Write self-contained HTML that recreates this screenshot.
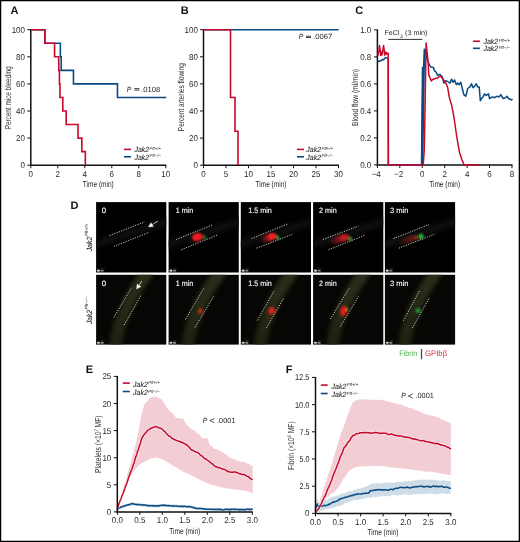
<!DOCTYPE html><html><head><meta charset="utf-8"><style>html,body{margin:0;padding:0;background:#fff;}svg{display:block;will-change:transform;} text{text-rendering:geometricPrecision;font-family:"Liberation Sans", sans-serif;}</style></head><body>
<svg width="520" height="542" viewBox="0 0 520 542">
<rect x="0" y="0" width="520" height="542" fill="#fff"/>
<text x="10.5" y="14.2" font-size="11" text-anchor="start" font-weight="bold" fill="#111" >A</text>
<path d="M30.8,29.19999999999999 V165.2 H166.3" fill="none" stroke="#111" stroke-width="1.5"/>
<path d="M27.3,165.2 H30.8" stroke="#111" stroke-width="1"/>
<path d="M27.3,138.1 H30.8" stroke="#111" stroke-width="1"/>
<path d="M27.3,110.99999999999999 H30.8" stroke="#111" stroke-width="1"/>
<path d="M27.3,83.89999999999998 H30.8" stroke="#111" stroke-width="1"/>
<path d="M27.3,56.79999999999998 H30.8" stroke="#111" stroke-width="1"/>
<path d="M27.3,29.69999999999999 H30.8" stroke="#111" stroke-width="1"/>
<path d="M30.8,165.2 V168.2" stroke="#111" stroke-width="1"/>
<path d="M57.8,165.2 V168.2" stroke="#111" stroke-width="1"/>
<path d="M84.8,165.2 V168.2" stroke="#111" stroke-width="1"/>
<path d="M111.8,165.2 V168.2" stroke="#111" stroke-width="1"/>
<path d="M138.8,165.2 V168.2" stroke="#111" stroke-width="1"/>
<path d="M165.8,165.2 V168.2" stroke="#111" stroke-width="1"/>
<text x="25.0" y="168.2" font-size="8.5" text-anchor="end" fill="#231f20" textLength="4.45" lengthAdjust="spacingAndGlyphs" >0</text>
<text x="25.0" y="141.1" font-size="8.5" text-anchor="end" fill="#231f20" textLength="8.9" lengthAdjust="spacingAndGlyphs" >20</text>
<text x="25.0" y="114.0" font-size="8.5" text-anchor="end" fill="#231f20" textLength="8.9" lengthAdjust="spacingAndGlyphs" >40</text>
<text x="25.0" y="86.9" font-size="8.5" text-anchor="end" fill="#231f20" textLength="8.9" lengthAdjust="spacingAndGlyphs" >60</text>
<text x="25.0" y="59.8" font-size="8.5" text-anchor="end" fill="#231f20" textLength="8.9" lengthAdjust="spacingAndGlyphs" >80</text>
<text x="25.0" y="32.7" font-size="8.5" text-anchor="end" fill="#231f20" textLength="13.34" lengthAdjust="spacingAndGlyphs" >100</text>
<text x="30.8" y="177.2" font-size="8.5" text-anchor="middle" fill="#231f20" textLength="4.45" lengthAdjust="spacingAndGlyphs" >0</text>
<text x="57.8" y="177.2" font-size="8.5" text-anchor="middle" fill="#231f20" textLength="4.45" lengthAdjust="spacingAndGlyphs" >2</text>
<text x="84.8" y="177.2" font-size="8.5" text-anchor="middle" fill="#231f20" textLength="4.45" lengthAdjust="spacingAndGlyphs" >4</text>
<text x="111.8" y="177.2" font-size="8.5" text-anchor="middle" fill="#231f20" textLength="4.45" lengthAdjust="spacingAndGlyphs" >6</text>
<text x="138.8" y="177.2" font-size="8.5" text-anchor="middle" fill="#231f20" textLength="4.45" lengthAdjust="spacingAndGlyphs" >8</text>
<text x="165.8" y="177.2" font-size="8.5" text-anchor="middle" fill="#231f20" textLength="8.9" lengthAdjust="spacingAndGlyphs" >10</text>
<text x="98.3" y="186.5" font-size="8.6" text-anchor="middle" fill="#231f20" textLength="31" lengthAdjust="spacingAndGlyphs">Time (min)</text>
<text transform="translate(11.4 97.8) rotate(-90)" x="0" y="0" font-size="8.6" text-anchor="middle" fill="#231f20" textLength="63" lengthAdjust="spacingAndGlyphs">Percent mice bleeding</text>
<polyline points="30.80,29.70 44.84,29.70 44.84,43.25 60.36,43.25 60.36,56.80 61.17,56.80 61.17,70.35 73.46,70.35 73.46,83.90 117.47,83.90 117.47,97.45 166.34,97.45" fill="none" stroke="#0a4a82" stroke-width="1.6"/>
<polyline points="30.80,29.70 44.84,29.70 44.84,43.25 54.56,43.25 54.56,56.80 58.74,56.80 58.74,70.35 59.42,70.35 59.42,83.90 59.96,83.90 59.96,97.45 62.80,97.45 62.80,111.00 66.17,111.00 66.17,124.55 78.05,124.55 78.05,138.10 81.83,138.10 81.83,151.65 85.34,151.65 85.34,165.20" fill="none" stroke="#c8082c" stroke-width="1.6"/>
<text x="126.80" y="91.6" font-size="7.5" font-style="italic" fill="#231f20" textLength="4.6" lengthAdjust="spacingAndGlyphs">P</text>
<rect x="134.4" y="88.25" width="5.00" height="0.85" fill="#231f20"/>
<rect x="134.4" y="89.65" width="5.00" height="0.85" fill="#231f20"/>
<text x="141.10" y="91.6" font-size="7.5" fill="#231f20" textLength="19.10" lengthAdjust="spacingAndGlyphs">.0108</text>
<path d="M124,149.4 H131" stroke="#c8082c" stroke-width="1.6"/>
<path d="M124,156.8 H131" stroke="#0a4a82" stroke-width="1.6"/>
<g transform="translate(134.4 152.3)"><text x="0" y="0" font-size="7.6" font-style="italic" fill="#231f20" stroke="#231f20" stroke-width="0.08" textLength="14.7" lengthAdjust="spacingAndGlyphs">Jak2</text><text x="15.20" y="-2.28" font-size="4.56" font-style="italic" fill="#231f20" textLength="11.5" lengthAdjust="spacingAndGlyphs">Plt+/+</text></g>
<g transform="translate(134.4 159.5)"><text x="0" y="0" font-size="7.6" font-style="italic" fill="#231f20" stroke="#231f20" stroke-width="0.08" textLength="14.7" lengthAdjust="spacingAndGlyphs">Jak2</text><text x="15.20" y="-2.28" font-size="4.56" font-style="italic" fill="#231f20" textLength="11.5" lengthAdjust="spacingAndGlyphs">Plt−/−</text></g>
<text x="180.8" y="14.2" font-size="11" text-anchor="start" font-weight="bold" fill="#111" >B</text>
<path d="M203.5,29.19999999999999 V165.2 H339.0" fill="none" stroke="#111" stroke-width="1.5"/>
<path d="M200.0,165.2 H203.5" stroke="#111" stroke-width="1"/>
<path d="M200.0,138.1 H203.5" stroke="#111" stroke-width="1"/>
<path d="M200.0,110.99999999999999 H203.5" stroke="#111" stroke-width="1"/>
<path d="M200.0,83.89999999999998 H203.5" stroke="#111" stroke-width="1"/>
<path d="M200.0,56.79999999999998 H203.5" stroke="#111" stroke-width="1"/>
<path d="M200.0,29.69999999999999 H203.5" stroke="#111" stroke-width="1"/>
<path d="M203.5,165.2 V168.2" stroke="#111" stroke-width="1"/>
<path d="M226.0,165.2 V168.2" stroke="#111" stroke-width="1"/>
<path d="M248.5,165.2 V168.2" stroke="#111" stroke-width="1"/>
<path d="M271.0,165.2 V168.2" stroke="#111" stroke-width="1"/>
<path d="M293.5,165.2 V168.2" stroke="#111" stroke-width="1"/>
<path d="M316.0,165.2 V168.2" stroke="#111" stroke-width="1"/>
<path d="M338.5,165.2 V168.2" stroke="#111" stroke-width="1"/>
<text x="197.9" y="168.2" font-size="8.5" text-anchor="end" fill="#231f20" textLength="4.45" lengthAdjust="spacingAndGlyphs" >0</text>
<text x="197.9" y="141.1" font-size="8.5" text-anchor="end" fill="#231f20" textLength="8.9" lengthAdjust="spacingAndGlyphs" >20</text>
<text x="197.9" y="114.0" font-size="8.5" text-anchor="end" fill="#231f20" textLength="8.9" lengthAdjust="spacingAndGlyphs" >40</text>
<text x="197.9" y="86.9" font-size="8.5" text-anchor="end" fill="#231f20" textLength="8.9" lengthAdjust="spacingAndGlyphs" >60</text>
<text x="197.9" y="59.8" font-size="8.5" text-anchor="end" fill="#231f20" textLength="8.9" lengthAdjust="spacingAndGlyphs" >80</text>
<text x="197.9" y="32.7" font-size="8.5" text-anchor="end" fill="#231f20" textLength="13.34" lengthAdjust="spacingAndGlyphs" >100</text>
<text x="203.5" y="177.2" font-size="8.5" text-anchor="middle" fill="#231f20" textLength="4.45" lengthAdjust="spacingAndGlyphs" >0</text>
<text x="226.0" y="177.2" font-size="8.5" text-anchor="middle" fill="#231f20" textLength="4.45" lengthAdjust="spacingAndGlyphs" >5</text>
<text x="248.5" y="177.2" font-size="8.5" text-anchor="middle" fill="#231f20" textLength="8.9" lengthAdjust="spacingAndGlyphs" >10</text>
<text x="271.0" y="177.2" font-size="8.5" text-anchor="middle" fill="#231f20" textLength="8.9" lengthAdjust="spacingAndGlyphs" >15</text>
<text x="293.5" y="177.2" font-size="8.5" text-anchor="middle" fill="#231f20" textLength="8.9" lengthAdjust="spacingAndGlyphs" >20</text>
<text x="316.0" y="177.2" font-size="8.5" text-anchor="middle" fill="#231f20" textLength="8.9" lengthAdjust="spacingAndGlyphs" >25</text>
<text x="338.5" y="177.2" font-size="8.5" text-anchor="middle" fill="#231f20" textLength="8.9" lengthAdjust="spacingAndGlyphs" >30</text>
<text x="271.0" y="186.5" font-size="8.6" text-anchor="middle" fill="#231f20" textLength="31" lengthAdjust="spacingAndGlyphs">Time (min)</text>
<text transform="translate(184.2 97.2) rotate(-90)" x="0" y="0" font-size="8.6" text-anchor="middle" fill="#231f20" textLength="68" lengthAdjust="spacingAndGlyphs">Percent arteries flowing</text>
<polyline points="203.50,29.70 338.50,29.70" fill="none" stroke="#0a4a82" stroke-width="1.6"/>
<polyline points="203.50,29.70 230.50,29.70 230.50,97.45 235.00,97.45 235.00,131.32 238.01,131.32 238.01,165.20" fill="none" stroke="#c8082c" stroke-width="1.6"/>
<text x="298.80" y="39.1" font-size="7.5" font-style="italic" fill="#231f20" textLength="4.6" lengthAdjust="spacingAndGlyphs">P</text>
<rect x="306.0" y="35.75" width="5.00" height="0.85" fill="#231f20"/>
<rect x="306.0" y="37.15" width="5.00" height="0.85" fill="#231f20"/>
<text x="313.10" y="39.1" font-size="7.5" fill="#231f20" textLength="19.10" lengthAdjust="spacingAndGlyphs">.0067</text>
<path d="M297,149.4 H304" stroke="#c8082c" stroke-width="1.6"/>
<path d="M297,156.8 H304" stroke="#0a4a82" stroke-width="1.6"/>
<g transform="translate(306.3 152.3)"><text x="0" y="0" font-size="7.6" font-style="italic" fill="#231f20" stroke="#231f20" stroke-width="0.08" textLength="14.7" lengthAdjust="spacingAndGlyphs">Jak2</text><text x="15.20" y="-2.28" font-size="4.56" font-style="italic" fill="#231f20" textLength="11.5" lengthAdjust="spacingAndGlyphs">Plt+/+</text></g>
<g transform="translate(306.3 159.5)"><text x="0" y="0" font-size="7.6" font-style="italic" fill="#231f20" stroke="#231f20" stroke-width="0.08" textLength="14.7" lengthAdjust="spacingAndGlyphs">Jak2</text><text x="15.20" y="-2.28" font-size="4.56" font-style="italic" fill="#231f20" textLength="11.5" lengthAdjust="spacingAndGlyphs">Plt−/−</text></g>
<text x="355.2" y="14.4" font-size="11" text-anchor="start" font-weight="bold" fill="#111" >C</text>
<path d="M377.4,29.5 V165.0 H512.5" fill="none" stroke="#111" stroke-width="1.5"/>
<path d="M373.9,164.9 H377.4" stroke="#111" stroke-width="1"/>
<path d="M373.9,137.9 H377.4" stroke="#111" stroke-width="1"/>
<path d="M373.9,110.9 H377.4" stroke="#111" stroke-width="1"/>
<path d="M373.9,83.9 H377.4" stroke="#111" stroke-width="1"/>
<path d="M373.9,56.900000000000006 H377.4" stroke="#111" stroke-width="1"/>
<path d="M373.9,29.900000000000006 H377.4" stroke="#111" stroke-width="1"/>
<path d="M377.4,165.0 V168.0" stroke="#111" stroke-width="1"/>
<path d="M399.83,165.0 V168.0" stroke="#111" stroke-width="1"/>
<path d="M422.26,165.0 V168.0" stroke="#111" stroke-width="1"/>
<path d="M444.68999999999994,165.0 V168.0" stroke="#111" stroke-width="1"/>
<path d="M467.12,165.0 V168.0" stroke="#111" stroke-width="1"/>
<path d="M489.54999999999995,165.0 V168.0" stroke="#111" stroke-width="1"/>
<path d="M511.97999999999996,165.0 V168.0" stroke="#111" stroke-width="1"/>
<text x="371.3" y="167.9" font-size="8.5" text-anchor="end" fill="#231f20" textLength="11.12" lengthAdjust="spacingAndGlyphs" >0.0</text>
<text x="371.3" y="140.9" font-size="8.5" text-anchor="end" fill="#231f20" textLength="11.12" lengthAdjust="spacingAndGlyphs" >0.2</text>
<text x="371.3" y="113.9" font-size="8.5" text-anchor="end" fill="#231f20" textLength="11.12" lengthAdjust="spacingAndGlyphs" >0.4</text>
<text x="371.3" y="86.9" font-size="8.5" text-anchor="end" fill="#231f20" textLength="11.12" lengthAdjust="spacingAndGlyphs" >0.6</text>
<text x="371.3" y="59.9" font-size="8.5" text-anchor="end" fill="#231f20" textLength="11.12" lengthAdjust="spacingAndGlyphs" >0.8</text>
<text x="371.3" y="32.9" font-size="8.5" text-anchor="end" fill="#231f20" textLength="11.12" lengthAdjust="spacingAndGlyphs" >1.0</text>
<text x="376.2" y="177.2" font-size="8.5" text-anchor="middle" fill="#231f20" textLength="9.12" lengthAdjust="spacingAndGlyphs" >−4</text>
<text x="398.63" y="177.2" font-size="8.5" text-anchor="middle" fill="#231f20" textLength="9.12" lengthAdjust="spacingAndGlyphs" >−2</text>
<text x="422.26" y="177.2" font-size="8.5" text-anchor="middle" fill="#231f20" textLength="4.45" lengthAdjust="spacingAndGlyphs" >0</text>
<text x="444.69" y="177.2" font-size="8.5" text-anchor="middle" fill="#231f20" textLength="4.45" lengthAdjust="spacingAndGlyphs" >2</text>
<text x="467.12" y="177.2" font-size="8.5" text-anchor="middle" fill="#231f20" textLength="4.45" lengthAdjust="spacingAndGlyphs" >4</text>
<text x="489.55" y="177.2" font-size="8.5" text-anchor="middle" fill="#231f20" textLength="4.45" lengthAdjust="spacingAndGlyphs" >6</text>
<text x="511.98" y="177.2" font-size="8.5" text-anchor="middle" fill="#231f20" textLength="4.45" lengthAdjust="spacingAndGlyphs" >8</text>
<text x="444.7" y="186.5" font-size="8.6" text-anchor="middle" fill="#231f20" textLength="31" lengthAdjust="spacingAndGlyphs">Time (min)</text>
<text transform="translate(358.4 97.4) rotate(-90)" x="0" y="0" font-size="8.6" text-anchor="middle" fill="#231f20" textLength="57" lengthAdjust="spacingAndGlyphs">Blood flow (ml/min)</text>
<path d="M388.2,39.4 H422.3" stroke="#333" stroke-width="1.0"/>
<text x="384.5" y="35.2" font-size="6.9" fill="#231f20" textLength="14.8" lengthAdjust="spacingAndGlyphs">FeCl</text>
<text x="399.9" y="37.6" font-size="5.2" fill="#231f20">3</text>
<text x="405.0" y="35.2" font-size="6.9" fill="#231f20" textLength="22.5" lengthAdjust="spacingAndGlyphs">(3 min)</text>
<polyline points="377.50,61.50 378.50,61.00 379.50,61.50 380.50,60.50 381.50,60.50 382.50,59.50 383.50,59.80 384.50,58.50 385.50,57.50 386.50,57.80 387.50,58.00 388.20,58.50 388.30,165.00 421.50,165.00 422.50,67.50 423.60,67.50 424.30,49.20 425.00,49.50 426.00,56.00 428.20,61.90 429.30,64.80 431.00,67.10 433.40,67.40 434.50,70.60 436.20,72.30 437.40,75.20 439.10,74.60 440.00,74.60 442.30,76.90 443.80,83.10 445.40,80.80 447.70,81.50 450.00,83.10 451.50,79.20 453.10,82.30 454.60,80.00 456.20,84.60 457.70,83.10 459.20,84.60 460.80,82.30 462.30,88.50 463.80,94.60 465.80,96.20 467.70,88.50 470.00,86.90 471.50,83.80 473.10,87.70 474.60,86.20 476.20,83.80 477.70,86.90 479.20,86.90 480.30,100.80 481.50,98.50 483.00,96.90 484.60,93.80 486.20,95.40 488.50,93.80 489.50,98.50 492.30,96.90 494.60,97.70 496.90,96.20 499.20,96.90 500.80,94.60 503.10,98.50 505.40,97.70 506.90,96.20 508.50,98.50 510.00,99.20 511.50,100.00 512.60,99.20" fill="none" stroke="#0a4a82" stroke-width="1.5" stroke-linejoin="round"/>
<path d="M421.0,165 L422.3,67.6 L423.7,67.6 L424.1,49.2 L425.2,49.5 L423.4,165 Z" fill="#0a4a82"/>
<polyline points="377.30,52.50 378.30,55.00 379.00,50.00 379.50,45.40 380.20,50.00 380.70,55.50 381.30,52.00 382.00,55.00 382.80,50.00 383.60,45.40 384.20,50.00 384.60,55.00 385.30,52.00 386.00,54.50 386.70,52.50 387.50,54.00 388.30,53.50 388.40,165.00 423.20,165.00 424.30,150.00 425.20,100.00 426.10,43.10 427.10,52.30 428.20,62.50 428.70,74.60 431.30,81.00 432.20,79.80 434.50,78.70 437.40,78.10 440.30,75.80 443.00,79.20 446.20,83.80 447.70,87.70 449.20,96.90 451.50,104.60 453.10,112.30 454.60,121.50 456.20,133.00 457.90,143.50 459.60,152.70 461.90,159.60 464.20,165.00 478.70,165.00" fill="none" stroke="#c8082c" stroke-width="1.5" stroke-linejoin="round"/>
<path d="M472.9,41.25 H479.9" stroke="#c8082c" stroke-width="1.6"/>
<path d="M472.9,48.3 H479.9" stroke="#0a4a82" stroke-width="1.6"/>
<g transform="translate(483.5 44.3)"><text x="0" y="0" font-size="7.6" font-style="italic" fill="#231f20" stroke="#231f20" stroke-width="0.08" textLength="14.7" lengthAdjust="spacingAndGlyphs">Jak2</text><text x="15.20" y="-2.28" font-size="4.56" font-style="italic" fill="#231f20" textLength="11.5" lengthAdjust="spacingAndGlyphs">Plt+/+</text></g>
<g transform="translate(483.5 51.3)"><text x="0" y="0" font-size="7.6" font-style="italic" fill="#231f20" stroke="#231f20" stroke-width="0.08" textLength="14.7" lengthAdjust="spacingAndGlyphs">Jak2</text><text x="15.20" y="-2.28" font-size="4.56" font-style="italic" fill="#231f20" textLength="11.5" lengthAdjust="spacingAndGlyphs">Plt−/−</text></g>
<text x="70.4" y="209.2" font-size="11" text-anchor="start" font-weight="bold" fill="#111" >D</text>
<defs><filter id="b1" color-interpolation-filters="sRGB" x="-50%" y="-50%" width="200%" height="200%"><feGaussianBlur stdDeviation="1.2"/></filter><filter id="b2" color-interpolation-filters="sRGB" x="-50%" y="-50%" width="200%" height="200%"><feGaussianBlur stdDeviation="2.2"/></filter><filter id="b13" color-interpolation-filters="sRGB" x="-50%" y="-50%" width="200%" height="200%"><feGaussianBlur stdDeviation="1.3"/></filter><filter id="b08" color-interpolation-filters="sRGB" x="-50%" y="-50%" width="200%" height="200%"><feGaussianBlur stdDeviation="0.9"/></filter><filter id="b18" color-interpolation-filters="sRGB" x="-50%" y="-50%" width="200%" height="200%"><feGaussianBlur stdDeviation="1.9"/></filter><filter id="b03" color-interpolation-filters="sRGB" x="-50%" y="-50%" width="200%" height="200%"><feGaussianBlur stdDeviation="0.35"/></filter><filter id="b05" color-interpolation-filters="sRGB" x="-50%" y="-50%" width="200%" height="200%"><feGaussianBlur stdDeviation="0.6"/></filter></defs>
<clipPath id="c00"><rect x="96.1" y="202.1" width="70.2" height="70.4"/></clipPath>
<rect x="96.1" y="202.1" width="70.2" height="70.4" fill="#000"/>
<g clip-path="url(#c00)">
<path d="M88.1,246.7 L174.1,219.4" stroke="#0d0f0d" stroke-width="7.5" filter="url(#b2)"/>
<path d="M109.5,235.6 L144.7,221.9" stroke="#e8e8e8" stroke-width="0.85" stroke-dasharray="1.2 1.3"/>
<path d="M113.9,246.4 L149.2,232.3" stroke="#e8e8e8" stroke-width="0.85" stroke-dasharray="1.2 1.3"/>
<path d="M157.90,221.10 L152.16,224.64" stroke="#b8b8b8" stroke-width="1.0"/>
<path d="M148.50,226.90 L150.95,222.68 L153.37,226.60 Z" fill="#fafafa" stroke="#fafafa" stroke-width="0.4" stroke-linejoin="round"/>
<text x="101.8" y="212.79999999999998" font-size="7.8" fill="#fff" stroke="#fff" stroke-width="0.12">0</text>
<rect x="97.0" y="269.6" width="2.9" height="2.1" rx="0.8" fill="#d0d0d0" filter="url(#b03)"/>
<rect x="100.5" y="269.7" width="3.2" height="1.9" rx="0.6" fill="#8a8a8a" filter="url(#b03)"/>
<path d="M100.39999999999999,268.4 H105.6" stroke="#2a2a2a" stroke-width="0.7"/>
</g>
<clipPath id="c01"><rect x="168.6" y="202.1" width="70.2" height="70.4"/></clipPath>
<rect x="168.6" y="202.1" width="70.2" height="70.4" fill="#000"/>
<g clip-path="url(#c01)">
<path d="M160.6,246.7 L246.6,219.4" stroke="#0d0f0d" stroke-width="7.5" filter="url(#b2)"/>
<ellipse cx="204.4" cy="237.4" rx="2.4" ry="2.2" transform="rotate(0 204.4 237.4)" fill="#1d7a26" opacity="0.85" filter="url(#b1)"/>
<ellipse cx="202.3" cy="237.0" rx="1.2" ry="1.6" transform="rotate(-15 202.3 237.0)" fill="#c86018" opacity="0.7" filter="url(#b08)"/>
<ellipse cx="197.3" cy="237.1" rx="5.4" ry="4.1" transform="rotate(-15 197.3 237.1)" fill="#f51c22" opacity="1.0" filter="url(#b08)"/>
<path d="M176.2,239.5 L212,225.1" stroke="#e8e8e8" stroke-width="0.85" stroke-dasharray="1.2 1.3"/>
<path d="M181.3,249.7 L217.2,235.1" stroke="#e8e8e8" stroke-width="0.85" stroke-dasharray="1.2 1.3"/>
<text x="175.79999999999998" y="212.79999999999998" font-size="7.8" fill="#fff" stroke="#fff" stroke-width="0.12" textLength="17.3" lengthAdjust="spacingAndGlyphs">1 min</text>
<rect x="169.5" y="269.6" width="2.9" height="2.1" rx="0.8" fill="#d0d0d0" filter="url(#b03)"/>
<rect x="173.0" y="269.7" width="3.2" height="1.9" rx="0.6" fill="#8a8a8a" filter="url(#b03)"/>
<path d="M172.9,268.4 H178.1" stroke="#2a2a2a" stroke-width="0.7"/>
</g>
<clipPath id="c02"><rect x="240.8" y="202.1" width="70.2" height="70.4"/></clipPath>
<rect x="240.8" y="202.1" width="70.2" height="70.4" fill="#000"/>
<g clip-path="url(#c02)">
<path d="M232.8,246.7 L318.8,219.4" stroke="#0d0f0d" stroke-width="7.5" filter="url(#b2)"/>
<ellipse cx="277.8" cy="237.7" rx="1.9" ry="1.9" transform="rotate(0 277.8 237.7)" fill="#22b03a" opacity="1.0" filter="url(#b08)"/>
<ellipse cx="275.7" cy="236.6" rx="1.6" ry="1.8" transform="rotate(0 275.7 236.6)" fill="#c89a20" opacity="0.8" filter="url(#b08)"/>
<linearGradient id="g02268" x1="0" y1="0" x2="1" y2="0"><stop offset="0" stop-color="#e81c24" stop-opacity="0.15"/><stop offset="0.6" stop-color="#e81c24" stop-opacity="0.8"/><stop offset="1" stop-color="#e81c24" stop-opacity="1"/></linearGradient>
<ellipse cx="268.5" cy="237.9" rx="8.0" ry="3.7" transform="rotate(-20 268.5 237.9)" fill="url(#g02268)" opacity="1.0" filter="url(#b08)"/>
<ellipse cx="272.0" cy="236.4" rx="3.5" ry="3.0" transform="rotate(-20 272.0 236.4)" fill="#f22226" opacity="1.0" filter="url(#b08)"/>
<path d="M251.4,238.7 L287.2,224.1" stroke="#e8e8e8" stroke-width="0.85" stroke-dasharray="1.2 1.3"/>
<path d="M256.5,248.2 L292.3,234.3" stroke="#e8e8e8" stroke-width="0.85" stroke-dasharray="1.2 1.3"/>
<text x="248.3" y="212.79999999999998" font-size="7.8" fill="#fff" stroke="#fff" stroke-width="0.12" textLength="23.4" lengthAdjust="spacingAndGlyphs">1.5 min</text>
<rect x="241.70000000000002" y="269.6" width="2.9" height="2.1" rx="0.8" fill="#d0d0d0" filter="url(#b03)"/>
<rect x="245.20000000000002" y="269.7" width="3.2" height="1.9" rx="0.6" fill="#8a8a8a" filter="url(#b03)"/>
<path d="M245.10000000000002,268.4 H250.3" stroke="#2a2a2a" stroke-width="0.7"/>
</g>
<clipPath id="c03"><rect x="313.1" y="202.1" width="70.2" height="70.4"/></clipPath>
<rect x="313.1" y="202.1" width="70.2" height="70.4" fill="#000"/>
<g clip-path="url(#c03)">
<path d="M305.1,246.7 L391.1,219.4" stroke="#0d0f0d" stroke-width="7.5" filter="url(#b2)"/>
<ellipse cx="350.2" cy="238.7" rx="2.0" ry="1.9" transform="rotate(0 350.2 238.7)" fill="#20b038" opacity="1.0" filter="url(#b08)"/>
<ellipse cx="348.2" cy="238.2" rx="1.5" ry="1.8" transform="rotate(0 348.2 238.2)" fill="#c0901c" opacity="0.8" filter="url(#b08)"/>
<linearGradient id="g03340" x1="0" y1="0" x2="1" y2="0"><stop offset="0" stop-color="#b81c26" stop-opacity="0.15"/><stop offset="0.6" stop-color="#b81c26" stop-opacity="0.8"/><stop offset="1" stop-color="#b81c26" stop-opacity="1"/></linearGradient>
<ellipse cx="339.5" cy="239.2" rx="10.5" ry="3.6" transform="rotate(-20 339.5 239.2)" fill="url(#g03340)" opacity="1.0" filter="url(#b1)"/>
<ellipse cx="344.0" cy="237.9" rx="3.2" ry="2.8" transform="rotate(-20 344.0 237.9)" fill="#c41e28" opacity="0.9" filter="url(#b08)"/>
<path d="M323,239.5 L358.5,226" stroke="#e8e8e8" stroke-width="0.85" stroke-dasharray="1.2 1.3"/>
<path d="M328.5,249.7 L364.3,235.5" stroke="#e8e8e8" stroke-width="0.85" stroke-dasharray="1.2 1.3"/>
<text x="319.1" y="212.79999999999998" font-size="7.8" fill="#fff" stroke="#fff" stroke-width="0.12" textLength="17.6" lengthAdjust="spacingAndGlyphs">2 min</text>
<rect x="314.0" y="269.6" width="2.9" height="2.1" rx="0.8" fill="#d0d0d0" filter="url(#b03)"/>
<rect x="317.5" y="269.7" width="3.2" height="1.9" rx="0.6" fill="#8a8a8a" filter="url(#b03)"/>
<path d="M317.40000000000003,268.4 H322.6" stroke="#2a2a2a" stroke-width="0.7"/>
</g>
<clipPath id="c04"><rect x="384.9" y="202.1" width="70.2" height="70.4"/></clipPath>
<rect x="384.9" y="202.1" width="70.2" height="70.4" fill="#000"/>
<g clip-path="url(#c04)">
<path d="M376.9,246.7 L462.9,219.4" stroke="#0d0f0d" stroke-width="7.5" filter="url(#b2)"/>
<linearGradient id="g04409" x1="0" y1="0" x2="1" y2="0"><stop offset="0" stop-color="#6e1c16" stop-opacity="0.15"/><stop offset="0.6" stop-color="#6e1c16" stop-opacity="0.8"/><stop offset="1" stop-color="#6e1c16" stop-opacity="1"/></linearGradient>
<ellipse cx="409.0" cy="239.6" rx="11.0" ry="3.4" transform="rotate(-18 409.0 239.6)" fill="url(#g04409)" opacity="1.0" filter="url(#b1)"/>
<ellipse cx="416.8" cy="237.6" rx="1.8" ry="2.0" transform="rotate(0 416.8 237.6)" fill="#8a4a14" opacity="0.7" filter="url(#b08)"/>
<ellipse cx="421.0" cy="236.4" rx="2.8" ry="2.9" transform="rotate(0 421.0 236.4)" fill="#1a8a2c" opacity="0.9" filter="url(#b1)"/>
<ellipse cx="421.1" cy="236.4" rx="1.6" ry="1.9" transform="rotate(0 421.1 236.4)" fill="#34d050" opacity="1.0" filter="url(#b08)"/>
<path d="M393.5,238.7 L429,224.6" stroke="#e8e8e8" stroke-width="0.85" stroke-dasharray="1.2 1.3"/>
<path d="M398.8,248.2 L434.4,234.3" stroke="#e8e8e8" stroke-width="0.85" stroke-dasharray="1.2 1.3"/>
<text x="389.9" y="212.79999999999998" font-size="7.8" fill="#fff" stroke="#fff" stroke-width="0.12" textLength="18.5" lengthAdjust="spacingAndGlyphs">3 min</text>
<rect x="385.79999999999995" y="269.6" width="2.9" height="2.1" rx="0.8" fill="#d0d0d0" filter="url(#b03)"/>
<rect x="389.29999999999995" y="269.7" width="3.2" height="1.9" rx="0.6" fill="#8a8a8a" filter="url(#b03)"/>
<path d="M389.2,268.4 H394.4" stroke="#2a2a2a" stroke-width="0.7"/>
</g>
<clipPath id="c10"><rect x="96.1" y="274.8" width="70.2" height="69.8"/></clipPath>
<rect x="96.1" y="274.8" width="70.2" height="69.8" fill="#080604"/>
<g clip-path="url(#c10)">
<linearGradient id="vg0" gradientUnits="userSpaceOnUse" x1="0" y1="274.8" x2="0" y2="344.6"><stop offset="0" stop-color="#292f19"/><stop offset="0.5" stop-color="#242a16"/><stop offset="1" stop-color="#1e2212"/></linearGradient>
<path d="M148.3,269.8 L145.6,274.8 Q120.2,310.1 115.6,344.3 L114.7,350.8" fill="none" stroke="url(#vg0)" stroke-width="12.5" filter="url(#b18)"/>
<path d="M113.8,317.5 L131.8,287.2" stroke="#e8e8e8" stroke-width="0.85" stroke-dasharray="1.2 1.3"/>
<path d="M124.2,325 L141.5,294.5" stroke="#e8e8e8" stroke-width="0.85" stroke-dasharray="1.2 1.3"/>
<path d="M141.80,281.00 L139.01,285.37" stroke="#b8b8b8" stroke-width="1.0"/>
<path d="M136.70,289.00 L137.07,284.14 L140.95,286.61 Z" fill="#fafafa" stroke="#fafafa" stroke-width="0.4" stroke-linejoin="round"/>
<text x="101.8" y="285.5" font-size="7.8" fill="#fff" stroke="#fff" stroke-width="0.12">0</text>
<rect x="97.0" y="341.70000000000005" width="2.9" height="2.1" rx="0.8" fill="#d0d0d0" filter="url(#b03)"/>
<rect x="100.5" y="341.8" width="3.2" height="1.9" rx="0.6" fill="#8a8a8a" filter="url(#b03)"/>
<path d="M100.39999999999999,340.5 H105.6" stroke="#2a2a2a" stroke-width="0.7"/>
</g>
<clipPath id="c11"><rect x="168.6" y="274.8" width="70.2" height="69.8"/></clipPath>
<rect x="168.6" y="274.8" width="70.2" height="69.8" fill="#080604"/>
<g clip-path="url(#c11)">
<linearGradient id="vg1" gradientUnits="userSpaceOnUse" x1="0" y1="274.8" x2="0" y2="344.6"><stop offset="0" stop-color="#292f19"/><stop offset="0.5" stop-color="#242a16"/><stop offset="1" stop-color="#1e2212"/></linearGradient>
<path d="M220.8,269.8 L218.1,274.8 Q192.7,310.1 188.1,344.3 L187.2,350.8" fill="none" stroke="url(#vg1)" stroke-width="12.5" filter="url(#b18)"/>
<ellipse cx="200.3" cy="311.3" rx="2.6" ry="3.4" transform="rotate(25 200.3 311.3)" fill="#a02a14" opacity="0.75" filter="url(#b1)"/>
<ellipse cx="200.5" cy="310.8" rx="1.4" ry="1.9" transform="rotate(25 200.5 310.8)" fill="#d84018" opacity="0.8" filter="url(#b08)"/>
<path d="M185.5,319.4 L203.7,288.5" stroke="#e8e8e8" stroke-width="0.85" stroke-dasharray="1.2 1.3"/>
<path d="M194.9,327.5 L213.5,296.3" stroke="#e8e8e8" stroke-width="0.85" stroke-dasharray="1.2 1.3"/>
<text x="175.79999999999998" y="285.5" font-size="7.8" fill="#fff" stroke="#fff" stroke-width="0.12" textLength="17.3" lengthAdjust="spacingAndGlyphs">1 min</text>
<rect x="169.5" y="341.70000000000005" width="2.9" height="2.1" rx="0.8" fill="#d0d0d0" filter="url(#b03)"/>
<rect x="173.0" y="341.8" width="3.2" height="1.9" rx="0.6" fill="#8a8a8a" filter="url(#b03)"/>
<path d="M172.9,340.5 H178.1" stroke="#2a2a2a" stroke-width="0.7"/>
</g>
<clipPath id="c12"><rect x="240.8" y="274.8" width="70.2" height="69.8"/></clipPath>
<rect x="240.8" y="274.8" width="70.2" height="69.8" fill="#080604"/>
<g clip-path="url(#c12)">
<linearGradient id="vg2" gradientUnits="userSpaceOnUse" x1="0" y1="274.8" x2="0" y2="344.6"><stop offset="0" stop-color="#292f19"/><stop offset="0.5" stop-color="#242a16"/><stop offset="1" stop-color="#1e2212"/></linearGradient>
<path d="M293.0,269.8 L290.3,274.8 Q264.9,310.1 260.3,344.3 L259.4,350.8" fill="none" stroke="url(#vg2)" stroke-width="12.5" filter="url(#b18)"/>
<ellipse cx="271.6" cy="310.9" rx="3.8" ry="4" transform="rotate(20 271.6 310.9)" fill="#c02018" opacity="0.85" filter="url(#b1)"/>
<ellipse cx="271.8" cy="310.5" rx="2.2" ry="2.4" transform="rotate(20 271.8 310.5)" fill="#ee3020" opacity="0.85" filter="url(#b08)"/>
<ellipse cx="268.6" cy="318.5" rx="1.2" ry="2.5" transform="rotate(20 268.6 318.5)" fill="#801810" opacity="0.7" filter="url(#b1)"/>
<path d="M257.3,320.5 L274.6,290.2" stroke="#e8e8e8" stroke-width="0.85" stroke-dasharray="1.2 1.3"/>
<path d="M266.5,327.7 L283.8,298" stroke="#e8e8e8" stroke-width="0.85" stroke-dasharray="1.2 1.3"/>
<text x="248.3" y="285.5" font-size="7.8" fill="#fff" stroke="#fff" stroke-width="0.12" textLength="23.4" lengthAdjust="spacingAndGlyphs">1.5 min</text>
<rect x="241.70000000000002" y="341.70000000000005" width="2.9" height="2.1" rx="0.8" fill="#d0d0d0" filter="url(#b03)"/>
<rect x="245.20000000000002" y="341.8" width="3.2" height="1.9" rx="0.6" fill="#8a8a8a" filter="url(#b03)"/>
<path d="M245.10000000000002,340.5 H250.3" stroke="#2a2a2a" stroke-width="0.7"/>
</g>
<clipPath id="c13"><rect x="313.1" y="274.8" width="70.2" height="69.8"/></clipPath>
<rect x="313.1" y="274.8" width="70.2" height="69.8" fill="#080604"/>
<g clip-path="url(#c13)">
<linearGradient id="vg3" gradientUnits="userSpaceOnUse" x1="0" y1="274.8" x2="0" y2="344.6"><stop offset="0" stop-color="#292f19"/><stop offset="0.5" stop-color="#242a16"/><stop offset="1" stop-color="#1e2212"/></linearGradient>
<path d="M365.3,269.8 L362.6,274.8 Q337.2,310.1 332.6,344.3 L331.7,350.8" fill="none" stroke="url(#vg3)" stroke-width="12.5" filter="url(#b18)"/>
<ellipse cx="343.6" cy="311" rx="3.1" ry="5.2" transform="rotate(15 343.6 311)" fill="#f01c14" opacity="1.0" filter="url(#b08)"/>
<ellipse cx="346.6" cy="309.8" rx="1.2" ry="2.2" transform="rotate(15 346.6 309.8)" fill="#a0a020" opacity="0.6" filter="url(#b05)"/>
<path d="M330.3,319.2 L349.1,288.5" stroke="#e8e8e8" stroke-width="0.85" stroke-dasharray="1.2 1.3"/>
<path d="M340.2,326.6 L358.7,296.2" stroke="#e8e8e8" stroke-width="0.85" stroke-dasharray="1.2 1.3"/>
<text x="319.1" y="285.5" font-size="7.8" fill="#fff" stroke="#fff" stroke-width="0.12" textLength="17.6" lengthAdjust="spacingAndGlyphs">2 min</text>
<rect x="314.0" y="341.70000000000005" width="2.9" height="2.1" rx="0.8" fill="#d0d0d0" filter="url(#b03)"/>
<rect x="317.5" y="341.8" width="3.2" height="1.9" rx="0.6" fill="#8a8a8a" filter="url(#b03)"/>
<path d="M317.40000000000003,340.5 H322.6" stroke="#2a2a2a" stroke-width="0.7"/>
</g>
<clipPath id="c14"><rect x="384.9" y="274.8" width="70.2" height="69.8"/></clipPath>
<rect x="384.9" y="274.8" width="70.2" height="69.8" fill="#080604"/>
<g clip-path="url(#c14)">
<linearGradient id="vg4" gradientUnits="userSpaceOnUse" x1="0" y1="274.8" x2="0" y2="344.6"><stop offset="0" stop-color="#292f19"/><stop offset="0.5" stop-color="#242a16"/><stop offset="1" stop-color="#1e2212"/></linearGradient>
<path d="M437.1,269.8 L434.4,274.8 Q409.0,310.1 404.4,344.3 L403.5,350.8" fill="none" stroke="url(#vg4)" stroke-width="12.5" filter="url(#b18)"/>
<ellipse cx="418" cy="310.7" rx="2.8" ry="2.8" transform="rotate(0 418 310.7)" fill="#1a7a2a" opacity="0.85" filter="url(#b1)"/>
<ellipse cx="418.3" cy="310.5" rx="1.5" ry="1.6" transform="rotate(0 418.3 310.5)" fill="#2eae48" opacity="0.85" filter="url(#b08)"/>
<path d="M403.4,320.7 L419.8,290.3" stroke="#e8e8e8" stroke-width="0.85" stroke-dasharray="1.2 1.3"/>
<path d="M412.3,328.1 L429.6,297.4" stroke="#e8e8e8" stroke-width="0.85" stroke-dasharray="1.2 1.3"/>
<text x="389.9" y="285.5" font-size="7.8" fill="#fff" stroke="#fff" stroke-width="0.12" textLength="18.5" lengthAdjust="spacingAndGlyphs">3 min</text>
<rect x="385.79999999999995" y="341.70000000000005" width="2.9" height="2.1" rx="0.8" fill="#d0d0d0" filter="url(#b03)"/>
<rect x="389.29999999999995" y="341.8" width="3.2" height="1.9" rx="0.6" fill="#8a8a8a" filter="url(#b03)"/>
<path d="M389.2,340.5 H394.4" stroke="#2a2a2a" stroke-width="0.7"/>
</g>
<g transform="translate(91.5 251.4) rotate(-90)"><text x="0" y="0" font-size="7.6" font-style="italic" fill="#231f20" stroke="#231f20" stroke-width="0.08" textLength="14.8" lengthAdjust="spacingAndGlyphs">Jak2</text><text x="15.30" y="-3.90" font-size="4.56" font-style="italic" fill="#231f20" textLength="12.4" lengthAdjust="spacingAndGlyphs">Plt+/+</text></g>
<g transform="translate(91.5 324.0) rotate(-90)"><text x="0" y="0" font-size="7.6" font-style="italic" fill="#231f20" stroke="#231f20" stroke-width="0.08" textLength="13.9" lengthAdjust="spacingAndGlyphs">Jak2</text><text x="14.40" y="-3.90" font-size="4.56" font-style="italic" fill="#231f20" textLength="12.9" lengthAdjust="spacingAndGlyphs">Plt−/−</text></g>
<text x="399.2" y="356.1" font-size="8.0" fill="#4caf50" textLength="18" lengthAdjust="spacingAndGlyphs">Fibrin</text>
<path d="M421.5,349.0 V359.3" stroke="#444" stroke-width="1.2"/>
<text x="425.1" y="356.1" font-size="8.0" fill="#d02c48" textLength="22" lengthAdjust="spacingAndGlyphs">GPIbβ</text>
<text x="85.8" y="372.8" font-size="11" text-anchor="start" font-weight="bold" fill="#111" >E</text>
<polygon points="117.30,509.00 117.45,508.49 117.64,507.92 117.88,507.50 118.14,506.46 118.42,505.51 118.70,504.63 118.98,503.43 119.25,502.68 119.50,502.06 119.79,501.40 120.06,500.18 120.32,499.39 120.59,498.45 120.87,498.11 121.17,497.30 121.50,495.72 121.68,495.59 121.86,495.15 122.05,494.29 122.24,493.42 122.44,492.20 122.64,491.05 122.85,490.45 123.06,489.33 123.28,488.43 123.49,487.57 123.72,486.53 123.94,485.92 124.17,485.15 124.40,484.67 124.61,483.85 124.82,483.15 125.03,482.30 125.25,481.62 125.47,480.72 125.70,479.73 125.93,479.42 126.16,478.87 126.39,478.07 126.62,477.17 126.85,476.01 127.08,474.97 127.32,474.10 127.55,473.10 127.77,472.76 128.00,471.91 128.22,471.45 128.45,470.48 128.67,470.06 128.89,469.39 129.11,467.99 129.34,467.09 129.56,466.81 129.78,465.94 130.00,465.52 130.23,464.46 130.45,463.28 130.68,462.73 130.91,462.17 131.14,461.08 131.37,459.97 131.60,459.18 131.81,458.95 132.03,458.28 132.24,457.03 132.47,456.11 132.69,455.12 132.91,454.18 133.14,453.89 133.37,452.83 133.59,452.19 133.82,451.37 134.04,450.34 134.26,449.84 134.48,448.71 134.69,448.14 134.90,447.04 135.11,446.34 135.31,445.43 135.50,444.65 135.71,444.35 135.91,443.65 136.11,442.50 136.30,442.00 136.49,440.81 136.67,439.96 136.85,439.52 137.03,438.73 137.21,437.51 137.38,437.21 137.55,436.03 137.72,435.07 137.89,434.58 138.06,433.55 138.23,432.57 138.40,431.46 138.54,430.58 138.69,430.13 138.84,429.20 138.98,428.59 139.13,427.66 139.27,426.81 139.41,426.35 139.56,425.29 139.70,424.39 139.84,423.74 139.98,422.44 140.11,421.34 140.25,420.99 140.38,420.35 140.51,419.20 140.64,418.22 140.76,417.84 140.88,417.50 141.00,416.45 141.24,415.68 141.45,414.81 141.66,413.79 141.85,412.80 142.04,411.74 142.23,410.87 142.42,410.88 142.60,409.99 142.80,409.59 143.07,408.40 143.31,407.88 143.55,407.06 143.82,406.03 144.16,405.03 144.60,404.53 145.01,403.50 145.47,402.73 145.99,402.24 146.53,401.87 147.10,401.15 147.67,400.22 148.24,400.00 148.80,399.11 149.57,398.24 150.38,397.87 151.21,397.72 152.00,397.25 152.71,397.01 153.30,396.95 154.24,396.66 155.00,396.25 155.92,396.48 156.99,397.29 158.00,397.97 158.83,398.12 159.60,398.39 160.50,398.93 160.97,398.97 161.48,399.20 162.01,399.63 162.57,400.91 163.12,401.74 163.67,402.74 164.20,402.84 164.64,403.69 165.05,404.38 165.46,405.32 165.87,405.85 166.29,407.04 166.72,407.27 167.19,408.10 167.70,408.97 168.26,409.81 168.88,410.37 169.53,410.88 170.19,411.45 170.86,412.09 171.51,412.20 172.13,412.79 172.70,413.53 173.29,414.27 173.83,414.64 174.34,415.48 174.82,416.30 175.30,416.77 175.79,417.29 176.30,417.53 177.24,418.10 178.21,418.42 179.14,418.15 180.00,418.48 180.99,418.73 181.87,418.55 182.70,418.63 183.17,418.78 183.61,419.57 184.04,420.31 184.50,421.01 185.00,422.09 185.44,422.30 185.89,423.32 186.35,423.63 186.86,424.63 187.44,425.41 188.10,425.96 188.68,426.79 189.33,427.33 190.04,427.98 190.77,428.82 191.51,428.98 192.25,429.13 192.95,429.67 193.60,430.46 194.40,430.81 195.15,431.16 195.88,432.13 196.58,432.65 197.29,433.00 198.00,433.84 198.62,434.10 199.25,434.86 199.88,435.23 200.50,435.94 201.12,436.89 201.72,437.69 202.30,438.21 203.30,438.31 204.29,438.48 205.20,438.33 206.00,438.17 207.19,438.28 208.10,439.19 208.30,439.91 208.44,440.61 208.54,441.63 208.66,442.09 208.85,442.70 209.14,443.66 209.60,444.35 210.10,444.82 210.71,445.50 211.41,446.30 212.16,446.87 212.95,447.27 213.74,448.13 214.49,448.89 215.19,449.03 215.80,448.96 216.70,449.18 217.46,450.01 218.15,449.81 218.84,450.36 219.60,450.75 220.30,450.96 221.03,451.70 221.77,451.71 222.52,452.07 223.27,452.76 224.00,452.99 224.70,453.99 225.38,454.26 226.06,454.56 226.75,454.88 227.49,455.75 228.30,456.27 228.98,456.80 229.74,457.28 230.54,457.83 231.35,458.41 232.15,458.65 232.91,458.55 233.60,458.87 234.20,458.92 235.31,459.33 236.06,460.09 236.90,460.83 237.68,460.80 238.49,460.90 239.39,461.07 240.40,461.52 241.16,461.61 241.99,461.75 242.87,461.95 243.77,461.82 244.69,462.19 245.60,462.65 246.31,462.40 247.07,463.19 247.85,463.68 248.63,463.71 249.38,464.22 250.08,464.81 250.69,465.49 251.20,465.48 252.70,465.40 252.70,493.10 252.10,492.88 251.23,492.70 250.25,492.44 249.30,491.86 248.41,491.37 247.51,491.22 246.57,490.96 245.60,491.05 244.78,490.98 243.93,490.83 243.06,490.67 242.18,490.58 241.30,490.16 240.45,490.05 239.61,489.76 238.76,489.99 237.86,489.53 236.90,489.69 236.15,489.30 235.37,489.43 234.55,489.25 233.72,489.16 232.87,489.34 232.03,488.88 231.20,488.63 230.38,488.96 229.55,488.84 228.72,488.47 227.89,488.77 227.06,488.83 226.23,488.29 225.40,488.13 224.57,487.79 223.74,487.63 222.91,487.65 222.09,487.28 221.26,487.31 220.43,486.84 219.60,486.57 218.77,486.71 217.94,486.43 217.11,486.18 216.28,486.05 215.45,485.79 214.62,485.48 213.80,484.98 212.98,485.02 212.17,485.04 211.36,484.91 210.54,484.51 209.73,483.97 208.92,483.56 208.10,483.39 207.28,483.14 206.45,482.52 205.62,482.12 204.79,481.84 203.96,481.61 203.13,481.50 202.30,481.07 201.57,480.43 200.85,480.41 200.12,479.99 199.39,479.65 198.67,479.12 197.94,478.80 197.22,478.43 196.50,478.30 195.78,477.64 195.07,477.39 194.36,476.86 193.65,476.70 192.94,476.04 192.23,475.67 191.52,475.34 190.80,475.17 190.08,474.56 189.36,474.32 188.63,473.89 187.91,473.54 187.18,473.31 186.45,473.31 185.73,472.85 185.00,472.72 184.27,472.00 183.55,471.91 182.82,471.34 182.09,470.77 181.37,470.63 180.64,470.46 179.92,469.64 179.20,469.18 178.48,469.05 177.77,468.52 177.06,467.98 176.35,467.36 175.64,466.85 174.93,466.72 174.22,466.66 173.50,466.40 172.79,465.75 172.09,464.89 171.39,464.40 170.69,464.19 169.98,463.87 169.25,463.35 168.49,462.61 167.70,462.19 167.04,461.79 166.35,461.47 165.64,460.88 164.92,460.78 164.19,460.49 163.45,459.72 162.70,459.24 161.96,459.19 161.23,458.69 160.50,458.74 159.70,458.41 158.90,458.27 158.10,458.15 157.30,457.76 156.50,457.60 155.70,457.50 154.90,457.73 154.10,457.91 153.30,457.74 152.50,458.21 151.70,458.31 150.90,458.41 150.11,458.76 149.31,459.46 148.51,459.75 147.71,460.15 146.90,460.72 146.10,461.24 145.37,461.54 144.62,461.66 143.87,462.02 143.11,462.58 142.36,463.01 141.61,463.31 140.88,463.57 140.16,463.96 139.47,464.65 138.80,465.19 138.22,465.40 137.67,466.22 137.13,467.06 136.61,467.74 136.11,468.48 135.61,469.20 135.11,469.69 134.62,470.44 134.12,470.94 133.62,471.37 133.10,472.11 132.65,472.72 132.18,473.73 131.71,474.44 131.23,475.06 130.74,475.77 130.26,476.18 129.79,476.99 129.32,477.84 128.87,478.42 128.44,478.95 128.03,479.63 127.65,480.22 127.30,481.02 126.80,481.71 126.37,482.40 126.00,483.25 125.67,484.27 125.36,485.20 125.06,486.00 124.74,486.98 124.40,487.59 124.11,488.00 123.81,488.89 123.50,489.71 123.20,490.38 122.89,491.42 122.60,492.16 122.30,492.87 122.02,493.67 121.75,494.82 121.50,495.19 121.21,496.09 120.94,496.90 120.69,497.65 120.46,498.56 120.23,499.28 119.99,500.46 119.75,501.22 119.50,502.15 119.25,502.69 118.98,503.61 118.70,504.64 118.42,505.77 118.14,506.42 117.88,507.27 117.64,508.26 117.45,509.01 117.30,509.20" fill="#f2ced4"/>
<polyline points="117.30,509.20 120.80,507.20 124.40,506.00 128.00,505.00 131.60,504.00 135.20,504.20 138.80,504.60 143.20,505.10 147.50,505.50 151.80,505.80 156.10,506.00 160.50,505.70 164.80,505.50 169.20,505.80 173.50,506.00 177.80,506.20 182.10,506.30 186.50,506.60 190.80,506.90 193.60,507.50 196.50,508.40 202.30,508.90 208.10,509.20 216.70,509.40 225.40,509.50 252.70,509.50" fill="none" stroke="#c9d8e6" stroke-width="2.8"/>
<polyline points="117.30,509.20 117.77,508.89 118.44,508.42 119.22,507.78 120.04,507.67 120.80,506.95 121.69,506.72 122.59,506.71 123.50,506.10 124.40,505.95 125.30,505.78 126.20,505.23 127.10,505.05 128.00,505.02 128.90,504.70 129.80,504.55 130.70,504.02 131.60,503.77 132.50,503.61 133.40,503.84 134.30,504.28 135.20,504.34 136.08,504.52 136.95,504.43 137.84,504.66 138.80,504.45 139.63,504.49 140.51,504.80 141.41,505.04 142.31,505.03 143.20,504.86 144.07,504.93 144.93,504.97 145.78,505.07 146.64,505.47 147.50,505.34 148.36,505.72 149.22,505.94 150.08,505.58 150.94,505.62 151.80,505.73 152.66,505.53 153.52,505.71 154.37,506.10 155.23,505.83 156.10,505.98 156.98,505.73 157.86,505.84 158.74,506.04 159.62,505.68 160.50,505.37 161.36,505.23 162.22,505.40 163.08,505.16 163.94,505.07 164.80,505.28 165.68,505.67 166.56,505.61 167.44,505.61 168.32,505.80 169.20,505.59 170.07,505.79 170.93,505.66 171.78,505.88 172.64,506.21 173.50,505.86 174.36,506.00 175.22,506.13 176.08,505.94 176.94,505.93 177.80,506.38 178.66,506.61 179.52,506.20 180.37,506.36 181.23,506.59 182.10,506.30 182.98,506.42 183.86,506.17 184.74,506.27 185.62,506.54 186.50,506.66 187.39,506.85 188.30,506.55 189.19,506.59 190.04,506.96 190.80,507.02 191.84,507.10 192.71,507.22 193.60,507.77 194.45,507.97 195.31,507.92 196.50,508.48 197.18,508.43 197.95,508.51 198.78,508.45 199.66,508.58 200.56,508.61 201.45,508.51 202.30,508.81 203.10,508.67 203.88,509.03 204.64,508.78 205.42,509.12 206.24,509.33 207.12,509.26 208.10,509.38 208.85,509.16 209.64,509.36 210.47,509.28 211.33,509.14 212.22,509.51 213.12,509.37 214.02,509.29 214.93,509.56 215.82,509.40 216.70,509.51 217.48,509.27 218.14,509.56 218.72,509.36 219.28,509.14 219.88,509.59 220.58,509.34 221.42,509.68 222.47,509.88 223.78,509.75 225.40,509.34 225.96,509.16 226.57,509.16 227.22,509.26 227.93,509.45 228.67,509.76 229.45,509.55 230.27,509.31 231.12,509.45 232.00,509.26 232.90,509.14 233.82,509.35 234.76,509.55 235.71,509.27 236.68,509.36 237.65,509.55 238.62,509.69 239.59,509.53 240.56,509.75 241.52,509.43 242.48,509.60 243.41,509.71 244.33,509.84 245.23,509.67 246.10,509.34 246.95,509.15 247.76,509.34 248.54,509.23 249.28,509.44 249.97,509.22 250.62,509.53 251.23,509.35 251.78,509.13 252.27,509.12 252.70,509.50" fill="none" stroke="#0a4a82" stroke-width="1.5" stroke-linejoin="round"/>
<polyline points="117.30,508.60 117.47,507.90 117.68,507.48 117.93,506.71 118.20,506.12 118.51,505.39 118.82,504.06 119.16,502.87 119.50,502.54 119.84,501.40 120.17,500.35 120.49,500.10 120.80,499.11 121.10,498.57 121.39,497.59 121.69,496.86 121.99,495.67 122.29,495.12 122.59,494.67 122.89,493.75 123.20,493.09 123.50,492.30 123.80,490.97 124.10,490.52 124.40,489.74 124.68,488.74 124.95,487.61 125.23,487.41 125.51,486.56 125.78,485.97 126.06,485.43 126.34,484.62 126.62,484.00 126.89,482.83 127.17,482.22 127.45,481.20 127.72,480.74 128.00,480.07 128.28,478.64 128.56,477.57 128.85,476.70 129.13,476.54 129.42,475.59 129.70,474.89 129.99,473.85 130.27,473.13 130.54,472.27 130.82,471.43 131.08,470.85 131.35,470.19 131.60,469.80 131.89,468.92 132.17,468.31 132.44,467.55 132.71,466.91 132.97,465.92 133.22,464.59 133.47,464.18 133.73,463.68 133.98,463.00 134.24,461.97 134.50,461.19 134.77,459.94 135.04,459.46 135.31,458.58 135.58,457.46 135.86,456.29 136.13,456.02 136.40,455.60 136.66,454.20 136.92,453.76 137.16,452.84 137.40,451.80 137.71,450.84 138.00,450.37 138.28,449.83 138.55,448.43 138.81,447.86 139.07,446.67 139.33,446.29 139.60,445.34 139.87,444.94 140.13,444.39 140.39,443.26 140.65,442.72 140.91,441.43 141.17,440.20 141.43,439.71 141.70,438.64 142.13,437.65 142.57,437.00 143.02,436.53 143.46,435.56 143.90,434.62 144.45,434.34 145.00,433.28 145.55,432.96 146.10,432.43 146.84,431.27 147.57,430.52 148.30,429.94 149.00,429.53 149.70,429.08 150.40,428.63 151.13,428.27 151.87,428.21 152.60,427.65 153.65,427.03 154.70,426.93 155.80,426.59 156.90,426.66 157.95,427.50 159.00,427.77 159.73,428.08 160.46,427.97 161.20,428.54 161.94,429.26 162.67,429.43 163.40,430.37 164.10,431.19 164.80,431.43 165.50,432.43 166.20,433.18 166.91,434.14 167.70,434.73 168.38,435.56 169.11,436.32 169.86,436.35 170.60,436.66 171.31,437.60 172.01,438.55 172.73,438.60 173.50,439.04 174.18,439.53 174.89,439.73 175.63,440.05 176.37,440.32 177.10,440.65 178.02,441.18 178.94,441.29 179.85,441.52 180.70,442.14 181.72,442.02 182.67,442.64 183.60,443.35 184.32,443.49 185.04,443.71 185.74,444.57 186.40,444.73 187.18,445.13 187.89,445.88 188.60,446.86 189.14,447.05 189.66,447.69 190.21,448.33 190.80,449.34 191.46,449.68 192.16,450.40 192.88,450.31 193.60,450.59 194.56,451.26 195.53,451.99 196.50,452.24 197.22,452.36 197.95,452.61 198.68,453.37 199.40,453.73 200.12,454.74 200.85,455.58 201.58,455.71 202.30,456.15 203.03,457.13 203.75,457.76 204.47,458.52 205.20,458.75 205.92,458.93 206.65,459.41 207.38,460.37 208.10,460.64 208.83,461.13 209.56,461.72 210.28,462.29 211.00,462.84 211.69,463.84 212.36,463.92 213.05,464.08 213.80,465.24 214.64,465.97 215.55,466.65 216.48,466.68 217.40,467.34 218.30,467.77 219.19,467.46 220.09,467.92 221.00,468.43 221.74,468.70 222.48,468.91 223.22,469.02 223.96,469.33 224.70,469.56 225.44,469.74 226.18,470.51 226.92,470.82 227.63,471.58 228.30,471.36 229.32,472.06 230.27,472.11 231.20,472.32 232.14,472.35 233.06,472.32 234.00,472.10 234.96,471.75 235.93,472.51 236.90,472.56 237.87,472.82 238.83,473.43 239.80,473.72 240.77,473.84 241.73,474.45 242.70,474.58 243.69,474.56 244.69,474.63 245.60,475.41 246.39,475.71 247.10,476.40 247.80,476.62 248.53,476.84 249.25,477.52 249.90,478.33 250.69,478.55 251.40,479.37 252.80,479.50" fill="none" stroke="#fff" stroke-opacity="0.45" stroke-width="3.4" stroke-linejoin="round"/>
<polyline points="117.30,508.60 117.47,507.90 117.68,507.48 117.93,506.71 118.20,506.12 118.51,505.39 118.82,504.06 119.16,502.87 119.50,502.54 119.84,501.40 120.17,500.35 120.49,500.10 120.80,499.11 121.10,498.57 121.39,497.59 121.69,496.86 121.99,495.67 122.29,495.12 122.59,494.67 122.89,493.75 123.20,493.09 123.50,492.30 123.80,490.97 124.10,490.52 124.40,489.74 124.68,488.74 124.95,487.61 125.23,487.41 125.51,486.56 125.78,485.97 126.06,485.43 126.34,484.62 126.62,484.00 126.89,482.83 127.17,482.22 127.45,481.20 127.72,480.74 128.00,480.07 128.28,478.64 128.56,477.57 128.85,476.70 129.13,476.54 129.42,475.59 129.70,474.89 129.99,473.85 130.27,473.13 130.54,472.27 130.82,471.43 131.08,470.85 131.35,470.19 131.60,469.80 131.89,468.92 132.17,468.31 132.44,467.55 132.71,466.91 132.97,465.92 133.22,464.59 133.47,464.18 133.73,463.68 133.98,463.00 134.24,461.97 134.50,461.19 134.77,459.94 135.04,459.46 135.31,458.58 135.58,457.46 135.86,456.29 136.13,456.02 136.40,455.60 136.66,454.20 136.92,453.76 137.16,452.84 137.40,451.80 137.71,450.84 138.00,450.37 138.28,449.83 138.55,448.43 138.81,447.86 139.07,446.67 139.33,446.29 139.60,445.34 139.87,444.94 140.13,444.39 140.39,443.26 140.65,442.72 140.91,441.43 141.17,440.20 141.43,439.71 141.70,438.64 142.13,437.65 142.57,437.00 143.02,436.53 143.46,435.56 143.90,434.62 144.45,434.34 145.00,433.28 145.55,432.96 146.10,432.43 146.84,431.27 147.57,430.52 148.30,429.94 149.00,429.53 149.70,429.08 150.40,428.63 151.13,428.27 151.87,428.21 152.60,427.65 153.65,427.03 154.70,426.93 155.80,426.59 156.90,426.66 157.95,427.50 159.00,427.77 159.73,428.08 160.46,427.97 161.20,428.54 161.94,429.26 162.67,429.43 163.40,430.37 164.10,431.19 164.80,431.43 165.50,432.43 166.20,433.18 166.91,434.14 167.70,434.73 168.38,435.56 169.11,436.32 169.86,436.35 170.60,436.66 171.31,437.60 172.01,438.55 172.73,438.60 173.50,439.04 174.18,439.53 174.89,439.73 175.63,440.05 176.37,440.32 177.10,440.65 178.02,441.18 178.94,441.29 179.85,441.52 180.70,442.14 181.72,442.02 182.67,442.64 183.60,443.35 184.32,443.49 185.04,443.71 185.74,444.57 186.40,444.73 187.18,445.13 187.89,445.88 188.60,446.86 189.14,447.05 189.66,447.69 190.21,448.33 190.80,449.34 191.46,449.68 192.16,450.40 192.88,450.31 193.60,450.59 194.56,451.26 195.53,451.99 196.50,452.24 197.22,452.36 197.95,452.61 198.68,453.37 199.40,453.73 200.12,454.74 200.85,455.58 201.58,455.71 202.30,456.15 203.03,457.13 203.75,457.76 204.47,458.52 205.20,458.75 205.92,458.93 206.65,459.41 207.38,460.37 208.10,460.64 208.83,461.13 209.56,461.72 210.28,462.29 211.00,462.84 211.69,463.84 212.36,463.92 213.05,464.08 213.80,465.24 214.64,465.97 215.55,466.65 216.48,466.68 217.40,467.34 218.30,467.77 219.19,467.46 220.09,467.92 221.00,468.43 221.74,468.70 222.48,468.91 223.22,469.02 223.96,469.33 224.70,469.56 225.44,469.74 226.18,470.51 226.92,470.82 227.63,471.58 228.30,471.36 229.32,472.06 230.27,472.11 231.20,472.32 232.14,472.35 233.06,472.32 234.00,472.10 234.96,471.75 235.93,472.51 236.90,472.56 237.87,472.82 238.83,473.43 239.80,473.72 240.77,473.84 241.73,474.45 242.70,474.58 243.69,474.56 244.69,474.63 245.60,475.41 246.39,475.71 247.10,476.40 247.80,476.62 248.53,476.84 249.25,477.52 249.90,478.33 250.69,478.55 251.40,479.37 252.80,479.50" fill="none" stroke="#c8082c" stroke-width="1.5" stroke-linejoin="round"/>
<path d="M117.3,375.9 V511.9 H252.8" fill="none" stroke="#111" stroke-width="1.5"/>
<path d="M113.8,511.9 H117.3" stroke="#111" stroke-width="1"/>
<path d="M113.8,484.79999999999995 H117.3" stroke="#111" stroke-width="1"/>
<path d="M113.8,457.7 H117.3" stroke="#111" stroke-width="1"/>
<path d="M113.8,430.59999999999997 H117.3" stroke="#111" stroke-width="1"/>
<path d="M113.8,403.5 H117.3" stroke="#111" stroke-width="1"/>
<path d="M113.8,376.4 H117.3" stroke="#111" stroke-width="1"/>
<path d="M117.3,511.9 V514.9" stroke="#111" stroke-width="1"/>
<path d="M139.8,511.9 V514.9" stroke="#111" stroke-width="1"/>
<path d="M162.3,511.9 V514.9" stroke="#111" stroke-width="1"/>
<path d="M184.8,511.9 V514.9" stroke="#111" stroke-width="1"/>
<path d="M207.3,511.9 V514.9" stroke="#111" stroke-width="1"/>
<path d="M229.8,511.9 V514.9" stroke="#111" stroke-width="1"/>
<path d="M252.3,511.9 V514.9" stroke="#111" stroke-width="1"/>
<text x="111.3" y="514.9" font-size="8.5" text-anchor="end" fill="#231f20" textLength="4.45" lengthAdjust="spacingAndGlyphs" >0</text>
<text x="111.3" y="487.8" font-size="8.5" text-anchor="end" fill="#231f20" textLength="4.45" lengthAdjust="spacingAndGlyphs" >5</text>
<text x="111.3" y="460.7" font-size="8.5" text-anchor="end" fill="#231f20" textLength="8.9" lengthAdjust="spacingAndGlyphs" >10</text>
<text x="111.3" y="433.6" font-size="8.5" text-anchor="end" fill="#231f20" textLength="8.9" lengthAdjust="spacingAndGlyphs" >15</text>
<text x="111.3" y="406.5" font-size="8.5" text-anchor="end" fill="#231f20" textLength="8.9" lengthAdjust="spacingAndGlyphs" >20</text>
<text x="111.3" y="379.4" font-size="8.5" text-anchor="end" fill="#231f20" textLength="8.9" lengthAdjust="spacingAndGlyphs" >25</text>
<text x="117.3" y="523.2" font-size="8.5" text-anchor="middle" fill="#231f20" textLength="11.12" lengthAdjust="spacingAndGlyphs" >0.0</text>
<text x="139.8" y="523.2" font-size="8.5" text-anchor="middle" fill="#231f20" textLength="11.12" lengthAdjust="spacingAndGlyphs" >0.5</text>
<text x="162.3" y="523.2" font-size="8.5" text-anchor="middle" fill="#231f20" textLength="11.12" lengthAdjust="spacingAndGlyphs" >1.0</text>
<text x="184.8" y="523.2" font-size="8.5" text-anchor="middle" fill="#231f20" textLength="11.12" lengthAdjust="spacingAndGlyphs" >1.5</text>
<text x="207.3" y="523.2" font-size="8.5" text-anchor="middle" fill="#231f20" textLength="11.12" lengthAdjust="spacingAndGlyphs" >2.0</text>
<text x="229.8" y="523.2" font-size="8.5" text-anchor="middle" fill="#231f20" textLength="11.12" lengthAdjust="spacingAndGlyphs" >2.5</text>
<text x="252.3" y="523.2" font-size="8.5" text-anchor="middle" fill="#231f20" textLength="11.12" lengthAdjust="spacingAndGlyphs" >3.0</text>
<text x="184.8" y="533.5" font-size="8.6" text-anchor="middle" fill="#231f20" textLength="31" lengthAdjust="spacingAndGlyphs">Time (min)</text>
<text transform="translate(101.4 444.2) rotate(-90)" x="0" y="0" font-size="8.6" text-anchor="middle" fill="#231f20" textLength="57.5" lengthAdjust="spacingAndGlyphs">Platelets (×10<tspan font-size="5" dy="-3">7</tspan><tspan dy="3"> MF)</tspan></text>
<text x="202.80" y="423.0" font-size="7.5" font-style="italic" fill="#231f20" textLength="4.6" lengthAdjust="spacingAndGlyphs">P</text>
<path d="M214.40,418.60 L209.90,420.60 L214.40,422.60" fill="none" stroke="#231f20" stroke-width="0.75"/>
<text x="217.10" y="423.0" font-size="7.5" fill="#231f20" textLength="18.30" lengthAdjust="spacingAndGlyphs">.0001</text>
<path d="M122.8,383.1 H129.8" stroke="#c8082c" stroke-width="1.6"/>
<path d="M122.8,391.5 H129.8" stroke="#0a4a82" stroke-width="1.6"/>
<g transform="translate(133.1 386.7)"><text x="0" y="0" font-size="7.6" font-style="italic" fill="#231f20" stroke="#231f20" stroke-width="0.08" textLength="14.7" lengthAdjust="spacingAndGlyphs">Jak2</text><text x="15.20" y="-2.28" font-size="4.56" font-style="italic" fill="#231f20" textLength="11.5" lengthAdjust="spacingAndGlyphs">Plt+/+</text></g>
<g transform="translate(133.1 395.0)"><text x="0" y="0" font-size="7.6" font-style="italic" fill="#231f20" stroke="#231f20" stroke-width="0.08" textLength="14.7" lengthAdjust="spacingAndGlyphs">Jak2</text><text x="15.20" y="-2.28" font-size="4.56" font-style="italic" fill="#231f20" textLength="11.5" lengthAdjust="spacingAndGlyphs">Plt−/−</text></g>
<text x="285.8" y="372.8" font-size="11" text-anchor="start" font-weight="bold" fill="#111" >F</text>
<polygon points="315.50,512.00 315.68,511.26 315.93,510.74 316.22,509.96 316.54,509.18 316.87,507.74 317.20,506.60 317.50,505.59 317.81,504.77 318.10,504.51 318.38,503.59 318.69,503.06 319.06,502.00 319.50,500.79 319.71,500.31 319.93,500.05 320.16,499.38 320.41,498.18 320.66,497.39 320.93,496.49 321.20,496.20 321.48,495.58 321.76,494.84 322.04,494.06 322.32,493.18 322.60,492.49 322.87,491.61 323.14,490.35 323.40,489.81 323.66,488.88 323.91,488.24 324.16,487.38 324.42,486.46 324.67,485.57 324.92,484.79 325.17,483.93 325.43,482.96 325.68,482.65 325.93,482.09 326.18,481.59 326.44,480.71 326.69,479.78 326.94,479.09 327.20,477.87 327.46,477.32 327.71,476.48 327.97,475.49 328.22,474.64 328.48,474.11 328.73,473.26 328.99,472.63 329.25,472.06 329.51,471.23 329.77,470.22 330.03,469.61 330.29,468.69 330.56,467.82 330.83,466.93 331.10,466.18 331.33,465.27 331.56,464.89 331.79,464.55 332.03,463.54 332.27,462.89 332.50,462.33 332.74,460.93 332.98,459.89 333.22,459.49 333.47,458.90 333.71,458.03 333.95,456.79 334.19,455.96 334.44,455.49 334.68,454.86 334.92,454.07 335.16,452.79 335.40,452.28 335.64,451.23 335.88,450.57 336.12,449.36 336.37,449.01 336.61,448.12 336.86,447.35 337.10,446.14 337.35,445.45 337.59,444.67 337.84,443.87 338.08,442.89 338.32,442.30 338.56,441.31 338.79,440.40 339.02,439.48 339.25,439.07 339.48,438.06 339.70,437.32 340.00,436.25 340.29,435.76 340.58,435.05 340.86,434.30 341.14,433.15 341.41,432.53 341.68,431.78 341.95,430.85 342.22,429.95 342.48,429.93 342.75,428.85 343.02,428.08 343.30,427.27 343.58,426.73 343.87,425.62 344.16,424.97 344.45,424.14 344.75,423.69 345.04,422.39 345.33,421.60 345.62,420.94 345.90,420.61 346.16,419.72 346.42,418.89 346.67,418.31 346.90,417.42 347.29,416.01 347.63,415.27 347.94,414.84 348.23,414.12 348.51,413.02 348.80,412.42 349.10,411.84 349.41,410.66 349.71,409.92 350.01,408.96 350.32,408.01 350.63,407.18 350.95,406.34 351.30,405.69 351.70,404.65 352.08,404.02 352.47,403.08 352.92,402.80 353.45,402.24 354.10,401.23 354.72,401.20 355.37,400.56 356.07,400.32 356.85,400.15 357.73,399.79 358.74,399.50 359.90,399.43 360.55,399.17 361.25,399.62 362.00,399.25 362.79,399.65 363.62,399.38 364.47,399.33 365.34,399.40 366.23,399.17 367.13,399.16 368.02,399.37 368.92,399.56 369.80,400.02 370.66,400.36 371.50,399.78 372.32,399.88 373.15,399.61 373.97,400.00 374.79,399.81 375.61,400.17 376.44,400.06 377.26,399.67 378.08,399.39 378.90,399.45 379.72,399.99 380.54,399.72 381.36,399.88 382.18,399.93 383.00,399.99 383.81,400.46 384.62,400.30 385.41,400.72 386.20,400.98 386.98,401.42 387.77,401.42 388.56,401.85 389.36,401.80 390.17,402.00 391.00,402.26 391.84,402.70 392.70,403.09 393.59,402.78 394.50,402.78 395.23,403.17 395.98,403.69 396.74,403.84 397.52,403.83 398.31,404.47 399.11,404.37 399.93,404.27 400.74,404.31 401.57,404.43 402.40,405.17 403.23,405.17 404.06,405.79 404.90,406.34 405.73,406.86 406.55,407.10 407.38,407.05 408.19,407.32 409.00,407.77 409.76,408.03 410.52,407.96 411.28,408.46 412.04,408.34 412.80,408.60 413.55,409.44 414.31,409.60 415.07,409.68 415.83,410.30 416.58,410.50 417.34,410.41 418.10,410.54 418.86,410.95 419.61,411.37 420.37,412.21 421.13,412.23 421.88,412.87 422.64,413.32 423.40,413.33 424.21,413.94 425.04,414.19 425.89,414.23 426.75,414.20 427.62,414.47 428.49,415.08 429.37,415.22 430.23,415.13 431.09,415.35 431.94,415.66 432.77,415.70 433.59,416.13 434.37,416.03 435.13,416.71 435.86,416.65 436.55,416.66 437.20,417.15 437.80,417.27 438.99,418.12 439.98,418.42 440.82,418.75 441.54,419.34 442.21,419.30 442.86,419.86 443.54,420.24 444.30,420.44 445.16,421.17 446.08,421.00 447.02,421.81 447.96,421.84 448.84,422.60 449.63,422.59 450.30,422.63 450.80,423.30 450.80,475.20 450.35,474.88 449.81,475.02 449.19,475.00 448.50,475.08 447.74,474.65 446.94,474.34 446.09,474.39 445.20,474.29 444.28,473.94 443.35,473.90 442.40,473.63 441.45,473.64 440.51,473.18 439.58,472.93 438.67,473.15 437.80,472.87 437.03,472.63 436.26,472.79 435.48,472.71 434.69,472.34 433.90,472.35 433.10,472.37 432.30,472.04 431.50,472.12 430.69,471.80 429.88,471.72 429.06,471.49 428.25,471.40 427.44,471.77 426.63,471.57 425.82,471.77 425.01,471.50 424.20,471.42 423.40,471.48 422.60,471.36 421.80,470.90 421.00,470.90 420.20,470.89 419.40,470.55 418.60,470.28 417.80,470.57 417.01,470.44 416.21,470.14 415.41,470.09 414.61,469.87 413.81,470.06 413.01,469.93 412.21,469.57 411.41,469.78 410.60,469.39 409.80,469.26 409.00,469.00 408.20,469.25 407.39,468.95 406.59,469.00 405.78,468.71 404.98,468.76 404.17,468.86 403.36,468.77 402.56,468.63 401.75,468.53 400.94,468.41 400.14,468.39 399.33,468.04 398.52,468.04 397.72,467.85 396.91,468.09 396.11,468.21 395.30,467.69 394.50,467.44 393.69,467.59 392.88,467.54 392.05,467.13 391.22,467.27 390.39,467.44 389.56,467.15 388.73,466.90 387.90,466.86 387.07,467.00 386.25,466.62 385.43,466.40 384.63,466.18 383.84,466.29 383.06,466.21 382.29,466.01 381.54,465.95 380.81,465.69 380.10,465.71 379.15,466.10 378.24,466.05 377.36,465.85 376.51,466.15 375.68,465.96 374.87,465.82 374.08,465.65 373.29,465.64 372.51,465.70 371.72,465.76 370.93,466.19 370.12,466.06 369.30,465.99 368.46,466.17 367.60,466.44 366.73,466.20 365.86,466.35 364.98,466.19 364.11,466.22 363.24,466.26 362.39,466.49 361.56,466.52 360.75,466.41 359.96,466.59 359.21,466.45 358.50,466.46 357.54,466.93 356.66,467.01 355.83,467.30 355.05,467.30 354.30,467.82 353.57,468.10 352.83,468.26 352.08,469.04 351.30,469.50 350.79,469.79 350.27,470.15 349.76,470.51 349.25,471.04 348.73,471.91 348.22,472.33 347.71,472.95 347.19,473.71 346.68,474.49 346.16,475.14 345.65,476.07 345.13,476.57 344.62,477.26 344.10,477.99 343.67,478.44 343.24,479.06 342.81,479.68 342.38,480.71 341.95,481.24 341.51,482.20 341.08,482.79 340.64,483.71 340.21,484.55 339.78,485.15 339.34,486.16 338.91,486.83 338.49,487.43 338.06,487.73 337.64,488.38 337.22,488.87 336.80,489.47 336.09,490.55 335.38,491.31 334.67,491.43 333.96,492.06 333.26,492.71 332.57,492.98 331.89,493.04 331.24,493.73 330.60,494.04 330.00,494.80 329.37,495.45 328.77,496.04 328.20,496.68 327.65,496.79 327.12,497.58 326.60,498.00 326.08,498.43 325.55,499.13 325.00,499.96 324.50,500.33 323.99,501.13 323.48,502.10 322.97,502.78 322.46,503.52 321.95,504.11 321.45,505.17 320.96,505.62 320.47,506.43 320.00,507.13 319.47,507.50 318.91,508.66 318.36,509.17 317.80,510.24 317.28,511.07 316.79,511.77 316.35,512.35 315.99,512.57 315.70,512.80" fill="#f2ced4"/>
<polygon points="315.50,503.00 315.63,502.79 315.80,501.22 316.02,500.53 316.25,499.28 316.50,499.31 317.22,498.81 318.00,500.20 318.24,501.24 318.48,502.59 319.50,503.28 320.01,502.61 320.62,502.23 321.31,502.21 322.06,501.62 322.87,501.11 323.72,500.60 324.59,500.70 325.47,500.55 326.34,500.21 327.19,499.34 328.00,499.38 328.79,498.87 329.60,498.18 330.42,497.87 331.25,497.50 332.07,496.84 332.89,496.78 333.71,496.40 334.51,496.24 335.29,496.34 336.06,495.99 336.80,495.47 337.67,495.46 338.51,495.44 339.31,494.87 340.10,494.88 340.88,493.94 341.65,493.48 342.42,493.17 343.20,493.58 344.00,493.44 344.81,493.28 345.62,492.68 346.43,492.45 347.24,492.56 348.06,491.79 348.87,491.29 349.68,490.86 350.49,490.90 351.30,491.14 352.10,490.87 352.91,490.48 353.71,490.25 354.51,489.72 355.31,490.03 356.10,489.52 356.90,489.04 357.70,488.75 358.50,488.95 359.31,488.48 360.13,488.66 360.95,488.13 361.78,487.86 362.60,487.28 363.40,487.62 364.19,487.57 364.96,487.12 365.70,486.43 366.45,486.22 367.11,485.80 367.73,485.79 368.33,485.66 368.97,485.22 369.68,484.43 370.51,483.67 371.50,483.96 372.15,484.16 372.84,483.52 373.59,483.47 374.37,483.41 375.19,483.80 376.03,483.14 376.89,482.82 377.77,483.35 378.66,483.35 379.55,483.25 380.43,483.47 381.31,483.39 382.17,483.42 383.00,483.02 383.81,482.64 384.62,482.36 385.41,482.49 386.20,482.82 386.98,482.72 387.77,482.62 388.56,482.79 389.36,482.93 390.17,482.88 391.00,482.57 391.84,482.85 392.70,482.93 393.59,483.02 394.50,483.03 395.23,482.22 395.98,482.37 396.74,482.12 397.52,481.99 398.31,482.01 399.11,481.64 399.93,481.51 400.74,482.07 401.57,481.72 402.40,482.02 403.23,481.93 404.06,481.51 404.90,481.26 405.73,481.35 406.55,481.44 407.38,481.11 408.19,480.66 409.00,480.49 409.80,480.99 410.61,481.07 411.42,480.50 412.22,480.82 413.03,480.69 413.84,480.36 414.64,480.64 415.45,480.05 416.26,479.67 417.06,479.66 417.86,479.96 418.66,479.90 419.46,479.78 420.26,480.06 421.05,479.72 421.84,479.88 422.62,479.24 423.40,479.61 424.22,479.23 425.04,479.49 425.85,479.80 426.65,479.81 427.45,479.76 428.25,479.73 429.05,479.93 429.84,479.71 430.63,479.51 431.43,479.73 432.22,479.85 433.01,479.57 433.80,479.83 434.60,479.94 435.40,479.74 436.20,480.16 437.00,480.45 437.83,480.23 438.70,480.61 439.60,480.94 440.53,480.84 441.47,480.59 442.41,480.37 443.36,480.16 444.29,480.21 445.20,480.92 446.09,480.45 446.94,481.01 447.75,481.12 448.50,481.27 449.19,480.75 449.81,480.99 450.35,480.73 450.80,481.00 450.80,493.90 450.35,493.78 449.81,493.82 449.19,493.79 448.50,493.79 447.75,493.77 446.94,493.97 446.09,493.72 445.20,493.93 444.29,493.47 443.36,493.51 442.41,493.56 441.47,493.41 440.53,493.87 439.60,493.72 438.70,494.07 437.83,494.39 437.00,493.93 436.20,494.27 435.40,494.36 434.60,494.27 433.80,493.65 433.01,493.72 432.22,493.91 431.43,493.70 430.63,493.53 429.84,493.52 429.05,493.46 428.25,493.91 427.45,493.74 426.65,493.73 425.85,493.93 425.04,494.31 424.22,493.91 423.40,493.51 422.62,494.15 421.84,494.36 421.05,494.44 420.26,494.26 419.46,493.93 418.66,493.71 417.86,493.76 417.06,493.94 416.26,493.70 415.45,494.17 414.64,494.46 413.84,493.98 413.03,494.51 412.22,494.48 411.42,494.88 410.61,494.69 409.80,494.91 409.00,494.74 408.20,494.81 407.39,494.77 406.59,494.33 405.78,494.25 404.98,494.30 404.17,494.50 403.37,494.59 402.56,494.81 401.76,495.05 400.95,494.95 400.14,494.86 399.34,495.00 398.53,495.50 397.72,495.62 396.92,495.59 396.11,495.75 395.31,495.33 394.50,495.03 393.69,494.91 392.89,494.91 392.08,494.85 391.27,495.41 390.47,495.99 389.66,495.59 388.85,495.95 388.04,496.40 387.24,496.51 386.43,496.05 385.62,496.30 384.82,496.12 384.01,496.01 383.21,495.84 382.41,496.26 381.60,496.87 380.80,496.48 380.00,496.36 379.14,496.57 378.27,496.40 377.37,496.74 376.47,497.20 375.56,497.23 374.65,496.91 373.74,496.78 372.84,496.92 371.95,497.45 371.07,498.00 370.21,497.93 369.38,497.58 368.57,497.56 367.80,497.77 367.06,497.64 366.36,497.62 365.70,497.95 364.59,498.59 363.62,498.45 362.77,499.03 362.01,499.40 361.31,499.26 360.64,499.08 359.96,499.03 359.26,499.51 358.50,499.98 357.70,500.31 356.90,499.95 356.10,500.03 355.31,499.77 354.51,499.96 353.71,500.13 352.91,500.15 352.10,500.23 351.30,501.22 350.49,501.24 349.68,501.58 348.87,501.96 348.06,502.26 347.24,502.70 346.43,503.01 345.62,503.34 344.81,503.30 344.00,503.93 343.20,504.44 342.42,504.92 341.65,504.96 340.88,505.28 340.10,505.92 339.31,506.32 338.51,506.07 337.67,506.35 336.80,506.47 336.06,507.10 335.29,507.23 334.51,507.38 333.71,507.39 332.89,507.70 332.07,508.18 331.25,508.43 330.42,508.27 329.60,508.44 328.79,508.83 328.00,508.61 327.12,509.39 326.21,509.10 325.29,509.62 324.36,509.57 323.45,510.39 322.56,510.67 321.71,510.50 320.91,510.77 320.17,511.30 319.50,511.66 318.35,511.92 317.38,512.16 316.60,512.49 315.97,512.90 315.50,512.50" fill="#c9d8e6" opacity="0.9"/>
<polyline points="315.20,509.80 315.38,509.07 315.65,508.01 315.95,507.47 316.24,506.21 316.50,505.81 316.97,504.61 317.40,503.94 317.72,504.93 318.06,505.77 318.40,506.83 319.50,506.29 320.17,506.02 321.03,506.09 321.99,506.40 322.97,505.72 323.90,505.36 324.77,505.48 325.63,505.75 326.48,505.40 327.34,504.91 328.20,505.09 329.06,504.09 329.92,504.22 330.78,503.53 331.64,502.86 332.50,502.32 333.38,502.06 334.29,502.24 335.18,501.51 336.03,501.38 336.80,501.21 337.62,500.65 338.34,500.39 339.01,499.61 339.70,499.04 340.39,498.73 341.06,498.87 341.77,498.51 342.60,498.05 343.39,497.98 344.26,497.68 345.18,497.23 346.10,497.36 347.00,497.19 347.87,496.48 348.73,496.29 349.58,495.99 350.44,496.05 351.30,495.83 352.16,495.19 353.02,495.51 353.88,494.74 354.74,494.59 355.60,494.78 356.46,494.20 357.32,494.17 358.17,493.64 359.03,493.94 359.90,494.12 360.78,493.94 361.66,494.09 362.54,493.53 363.42,493.56 364.30,493.40 365.19,493.27 366.09,493.04 366.99,493.26 367.83,493.37 368.60,492.79 369.36,492.29 369.96,491.02 370.60,490.71 371.50,490.38 372.18,490.66 372.95,490.64 373.79,490.13 374.67,490.01 375.57,490.27 376.45,489.77 377.30,489.96 378.12,489.75 378.93,489.61 379.74,489.49 380.56,490.14 381.37,489.82 382.18,489.77 383.00,489.86 383.82,490.35 384.65,489.75 385.48,489.77 386.32,489.83 387.15,490.14 387.98,490.19 388.80,490.21 389.63,489.60 390.47,489.39 391.32,489.19 392.15,489.57 392.97,489.80 393.75,489.05 394.50,488.65 395.46,488.41 396.36,488.21 397.21,488.28 398.05,488.33 398.90,487.94 399.74,487.39 400.56,487.41 401.38,487.27 402.25,487.33 403.20,487.70 403.95,487.65 404.75,487.45 405.59,487.46 406.44,487.54 407.31,486.97 408.16,487.54 409.00,487.70 409.81,487.88 410.59,487.89 411.37,487.50 412.16,487.31 412.97,486.92 413.81,487.25 414.70,486.83 415.43,486.61 416.20,486.63 416.99,486.57 417.80,486.70 418.62,486.46 419.44,486.27 420.27,486.30 421.09,486.25 421.90,486.47 422.70,486.23 423.50,486.93 424.30,487.01 425.09,486.56 425.89,486.42 426.69,486.43 427.49,486.44 428.30,486.19 429.10,486.78 429.91,487.22 430.72,486.91 431.53,486.78 432.34,486.32 433.16,486.10 433.97,486.24 434.78,486.24 435.59,486.80 436.40,486.41 437.22,486.07 438.08,486.83 438.94,486.77 439.80,486.36 440.65,486.54 441.47,486.12 442.24,486.42 442.96,487.03 443.60,487.24 444.75,487.29 445.62,487.00 446.38,487.07 447.20,487.00 448.18,487.68 449.23,487.91 450.15,488.37 450.80,488.20" fill="none" stroke="#0a4a82" stroke-width="1.5" stroke-linejoin="round"/>
<polyline points="315.70,511.90 316.19,511.36 316.90,510.60 317.60,509.80 318.20,509.28 318.79,508.49 319.50,507.54 319.86,506.15 320.26,505.42 320.67,505.04 321.10,504.13 321.54,503.45 321.98,501.96 322.40,501.13 322.76,500.22 323.12,499.70 323.49,499.11 323.85,497.97 324.21,497.21 324.58,496.52 324.94,496.35 325.30,495.72 325.62,494.51 325.94,494.09 326.27,492.88 326.59,492.29 326.91,491.14 327.23,490.03 327.56,489.85 327.88,488.76 328.20,487.82 328.52,487.64 328.84,487.06 329.17,485.84 329.49,485.43 329.81,484.45 330.13,483.69 330.46,482.48 330.78,482.14 331.10,481.34 331.42,480.79 331.75,480.05 332.07,478.75 332.39,477.75 332.72,476.68 333.04,475.72 333.36,474.77 333.68,474.11 334.00,473.65 334.32,472.46 334.64,472.05 334.96,471.12 335.28,470.21 335.60,469.79 335.91,468.88 336.22,467.88 336.52,467.16 336.80,466.64 337.15,465.27 337.47,465.02 337.78,463.65 338.09,463.24 338.39,462.74 338.69,461.35 339.00,460.93 339.32,459.90 339.65,459.13 339.98,457.79 340.31,456.72 340.62,455.90 340.92,455.83 341.20,454.78 341.63,454.07 342.00,453.51 342.35,452.87 342.70,451.57 343.04,450.44 343.36,449.56 343.70,448.90 344.10,447.57 344.60,447.13 345.16,446.63 345.74,446.09 346.30,444.73 346.85,444.47 347.39,443.19 347.92,442.42 348.40,441.98 348.95,441.61 349.43,440.62 349.90,440.30 350.34,439.40 350.78,438.36 351.30,437.51 351.98,436.68 352.74,435.91 353.50,435.30 354.18,435.16 354.84,435.07 355.60,434.09 356.51,433.43 357.50,433.90 358.50,433.63 359.23,433.22 359.95,432.74 361.40,432.76 362.01,433.05 362.71,432.85 363.50,432.73 364.34,432.34 365.24,432.92 366.17,432.42 367.12,432.60 368.07,433.00 369.01,432.57 369.92,432.89 370.80,433.25 371.66,433.14 372.53,433.22 373.40,432.63 374.28,432.63 375.15,432.36 376.02,432.85 376.88,432.60 377.72,432.62 378.54,433.14 379.33,433.28 380.10,433.49 380.99,433.17 381.84,433.09 382.66,433.34 383.44,433.30 384.22,433.17 384.98,433.28 385.74,433.17 386.51,433.38 387.30,434.09 388.10,434.47 388.90,434.41 389.70,434.31 390.49,434.17 391.29,433.93 392.09,434.04 392.89,434.60 393.70,435.03 394.50,434.85 395.31,435.22 396.12,435.47 396.93,435.60 397.74,435.72 398.56,435.95 399.37,435.79 400.18,436.10 400.99,435.95 401.80,436.14 402.60,436.58 403.41,436.81 404.21,436.65 405.01,437.24 405.81,437.35 406.60,437.43 407.40,437.04 408.20,437.41 409.00,437.42 409.80,437.88 410.60,438.01 411.40,438.48 412.20,438.64 413.00,438.94 413.80,438.77 414.60,439.04 415.40,439.33 416.20,439.64 417.00,439.44 417.80,439.86 418.60,440.17 419.40,440.24 420.20,440.60 421.00,440.85 421.80,440.65 422.60,440.65 423.40,440.41 424.20,440.98 425.00,441.45 425.80,441.37 426.60,441.62 427.40,441.87 428.20,442.10 429.00,441.81 429.80,442.31 430.60,442.47 431.40,442.72 432.21,442.71 433.03,442.98 433.84,443.34 434.65,443.49 435.45,443.73 436.25,443.33 437.03,443.36 437.80,443.73 438.65,444.25 439.47,444.24 440.29,444.79 441.09,445.16 441.89,444.95 442.69,445.38 443.49,445.54 444.30,445.63 445.16,445.94 446.08,446.49 447.02,446.88 447.96,447.30 448.84,447.57 449.63,448.27 450.30,448.67 450.80,449.20" fill="none" stroke="#fff" stroke-opacity="0.45" stroke-width="3.4" stroke-linejoin="round"/>
<polyline points="315.70,511.90 316.19,511.36 316.90,510.60 317.60,509.80 318.20,509.28 318.79,508.49 319.50,507.54 319.86,506.15 320.26,505.42 320.67,505.04 321.10,504.13 321.54,503.45 321.98,501.96 322.40,501.13 322.76,500.22 323.12,499.70 323.49,499.11 323.85,497.97 324.21,497.21 324.58,496.52 324.94,496.35 325.30,495.72 325.62,494.51 325.94,494.09 326.27,492.88 326.59,492.29 326.91,491.14 327.23,490.03 327.56,489.85 327.88,488.76 328.20,487.82 328.52,487.64 328.84,487.06 329.17,485.84 329.49,485.43 329.81,484.45 330.13,483.69 330.46,482.48 330.78,482.14 331.10,481.34 331.42,480.79 331.75,480.05 332.07,478.75 332.39,477.75 332.72,476.68 333.04,475.72 333.36,474.77 333.68,474.11 334.00,473.65 334.32,472.46 334.64,472.05 334.96,471.12 335.28,470.21 335.60,469.79 335.91,468.88 336.22,467.88 336.52,467.16 336.80,466.64 337.15,465.27 337.47,465.02 337.78,463.65 338.09,463.24 338.39,462.74 338.69,461.35 339.00,460.93 339.32,459.90 339.65,459.13 339.98,457.79 340.31,456.72 340.62,455.90 340.92,455.83 341.20,454.78 341.63,454.07 342.00,453.51 342.35,452.87 342.70,451.57 343.04,450.44 343.36,449.56 343.70,448.90 344.10,447.57 344.60,447.13 345.16,446.63 345.74,446.09 346.30,444.73 346.85,444.47 347.39,443.19 347.92,442.42 348.40,441.98 348.95,441.61 349.43,440.62 349.90,440.30 350.34,439.40 350.78,438.36 351.30,437.51 351.98,436.68 352.74,435.91 353.50,435.30 354.18,435.16 354.84,435.07 355.60,434.09 356.51,433.43 357.50,433.90 358.50,433.63 359.23,433.22 359.95,432.74 361.40,432.76 362.01,433.05 362.71,432.85 363.50,432.73 364.34,432.34 365.24,432.92 366.17,432.42 367.12,432.60 368.07,433.00 369.01,432.57 369.92,432.89 370.80,433.25 371.66,433.14 372.53,433.22 373.40,432.63 374.28,432.63 375.15,432.36 376.02,432.85 376.88,432.60 377.72,432.62 378.54,433.14 379.33,433.28 380.10,433.49 380.99,433.17 381.84,433.09 382.66,433.34 383.44,433.30 384.22,433.17 384.98,433.28 385.74,433.17 386.51,433.38 387.30,434.09 388.10,434.47 388.90,434.41 389.70,434.31 390.49,434.17 391.29,433.93 392.09,434.04 392.89,434.60 393.70,435.03 394.50,434.85 395.31,435.22 396.12,435.47 396.93,435.60 397.74,435.72 398.56,435.95 399.37,435.79 400.18,436.10 400.99,435.95 401.80,436.14 402.60,436.58 403.41,436.81 404.21,436.65 405.01,437.24 405.81,437.35 406.60,437.43 407.40,437.04 408.20,437.41 409.00,437.42 409.80,437.88 410.60,438.01 411.40,438.48 412.20,438.64 413.00,438.94 413.80,438.77 414.60,439.04 415.40,439.33 416.20,439.64 417.00,439.44 417.80,439.86 418.60,440.17 419.40,440.24 420.20,440.60 421.00,440.85 421.80,440.65 422.60,440.65 423.40,440.41 424.20,440.98 425.00,441.45 425.80,441.37 426.60,441.62 427.40,441.87 428.20,442.10 429.00,441.81 429.80,442.31 430.60,442.47 431.40,442.72 432.21,442.71 433.03,442.98 433.84,443.34 434.65,443.49 435.45,443.73 436.25,443.33 437.03,443.36 437.80,443.73 438.65,444.25 439.47,444.24 440.29,444.79 441.09,445.16 441.89,444.95 442.69,445.38 443.49,445.54 444.30,445.63 445.16,445.94 446.08,446.49 447.02,446.88 447.96,447.30 448.84,447.57 449.63,448.27 450.30,448.67 450.80,449.20" fill="none" stroke="#c8082c" stroke-width="1.5" stroke-linejoin="round"/>
<path d="M315.5,376.9 V513.4 H451.3" fill="none" stroke="#111" stroke-width="1.5"/>
<path d="M312.0,513.4 H315.5" stroke="#111" stroke-width="1"/>
<path d="M312.0,486.2 H315.5" stroke="#111" stroke-width="1"/>
<path d="M312.0,459.0 H315.5" stroke="#111" stroke-width="1"/>
<path d="M312.0,431.79999999999995 H315.5" stroke="#111" stroke-width="1"/>
<path d="M312.0,404.59999999999997 H315.5" stroke="#111" stroke-width="1"/>
<path d="M312.0,377.4 H315.5" stroke="#111" stroke-width="1"/>
<path d="M315.5,513.4 V516.4" stroke="#111" stroke-width="1"/>
<path d="M338.05,513.4 V516.4" stroke="#111" stroke-width="1"/>
<path d="M360.6,513.4 V516.4" stroke="#111" stroke-width="1"/>
<path d="M383.15,513.4 V516.4" stroke="#111" stroke-width="1"/>
<path d="M405.7,513.4 V516.4" stroke="#111" stroke-width="1"/>
<path d="M428.25,513.4 V516.4" stroke="#111" stroke-width="1"/>
<path d="M450.8,513.4 V516.4" stroke="#111" stroke-width="1"/>
<text x="309.4" y="516.4" font-size="8.5" text-anchor="end" fill="#231f20" textLength="4.45" lengthAdjust="spacingAndGlyphs" >0</text>
<text x="309.4" y="489.2" font-size="8.5" text-anchor="end" fill="#231f20" textLength="10.02" lengthAdjust="spacingAndGlyphs" >2.5</text>
<text x="309.4" y="462.0" font-size="8.5" text-anchor="end" fill="#231f20" textLength="10.02" lengthAdjust="spacingAndGlyphs" >5.0</text>
<text x="309.4" y="434.8" font-size="8.5" text-anchor="end" fill="#231f20" textLength="10.02" lengthAdjust="spacingAndGlyphs" >7.5</text>
<text x="309.4" y="407.6" font-size="8.5" text-anchor="end" fill="#231f20" textLength="14.46" lengthAdjust="spacingAndGlyphs" >10.0</text>
<text x="309.4" y="380.4" font-size="8.5" text-anchor="end" fill="#231f20" textLength="14.46" lengthAdjust="spacingAndGlyphs" >12.5</text>
<text x="315.5" y="524.9" font-size="8.5" text-anchor="middle" fill="#231f20" textLength="11.12" lengthAdjust="spacingAndGlyphs" >0.0</text>
<text x="338.05" y="524.9" font-size="8.5" text-anchor="middle" fill="#231f20" textLength="11.12" lengthAdjust="spacingAndGlyphs" >0.5</text>
<text x="360.6" y="524.9" font-size="8.5" text-anchor="middle" fill="#231f20" textLength="11.12" lengthAdjust="spacingAndGlyphs" >1.0</text>
<text x="383.15" y="524.9" font-size="8.5" text-anchor="middle" fill="#231f20" textLength="11.12" lengthAdjust="spacingAndGlyphs" >1.5</text>
<text x="405.7" y="524.9" font-size="8.5" text-anchor="middle" fill="#231f20" textLength="11.12" lengthAdjust="spacingAndGlyphs" >2.0</text>
<text x="428.25" y="524.9" font-size="8.5" text-anchor="middle" fill="#231f20" textLength="11.12" lengthAdjust="spacingAndGlyphs" >2.5</text>
<text x="450.8" y="524.9" font-size="8.5" text-anchor="middle" fill="#231f20" textLength="11.12" lengthAdjust="spacingAndGlyphs" >3.0</text>
<text x="383.0" y="535.2" font-size="8.6" text-anchor="middle" fill="#231f20" textLength="31" lengthAdjust="spacingAndGlyphs">Time (min)</text>
<text transform="translate(294.4 445.6) rotate(-90)" x="0" y="0" font-size="8.6" text-anchor="middle" fill="#231f20" textLength="48.6" lengthAdjust="spacingAndGlyphs">Fibrin (×10<tspan font-size="5" dy="-3">6</tspan><tspan dy="3"> MF)</tspan></text>
<text x="401.20" y="398.4" font-size="7.5" font-style="italic" fill="#231f20" textLength="4.6" lengthAdjust="spacingAndGlyphs">P</text>
<path d="M412.80,394.00 L408.30,396.00 L412.80,398.00" fill="none" stroke="#231f20" stroke-width="0.75"/>
<text x="415.50" y="398.4" font-size="7.5" fill="#231f20" textLength="18.30" lengthAdjust="spacingAndGlyphs">.0001</text>
<path d="M320.8,385.1 H327.7" stroke="#c8082c" stroke-width="1.6"/>
<path d="M320.8,393.5 H327.7" stroke="#0a4a82" stroke-width="1.6"/>
<g transform="translate(331.6 388.6)"><text x="0" y="0" font-size="7.6" font-style="italic" fill="#231f20" stroke="#231f20" stroke-width="0.08" textLength="14.7" lengthAdjust="spacingAndGlyphs">Jak2</text><text x="15.20" y="-2.28" font-size="4.56" font-style="italic" fill="#231f20" textLength="11.5" lengthAdjust="spacingAndGlyphs">Plt+/+</text></g>
<g transform="translate(331.6 396.9)"><text x="0" y="0" font-size="7.6" font-style="italic" fill="#231f20" stroke="#231f20" stroke-width="0.08" textLength="14.7" lengthAdjust="spacingAndGlyphs">Jak2</text><text x="15.20" y="-2.28" font-size="4.56" font-style="italic" fill="#231f20" textLength="11.5" lengthAdjust="spacingAndGlyphs">Plt−/−</text></g>
<path d="M0.6,0.65 H519.35 V541.35 H0.6 Z" fill="none" stroke="#000" stroke-width="1.3"/>
</svg></body></html>
